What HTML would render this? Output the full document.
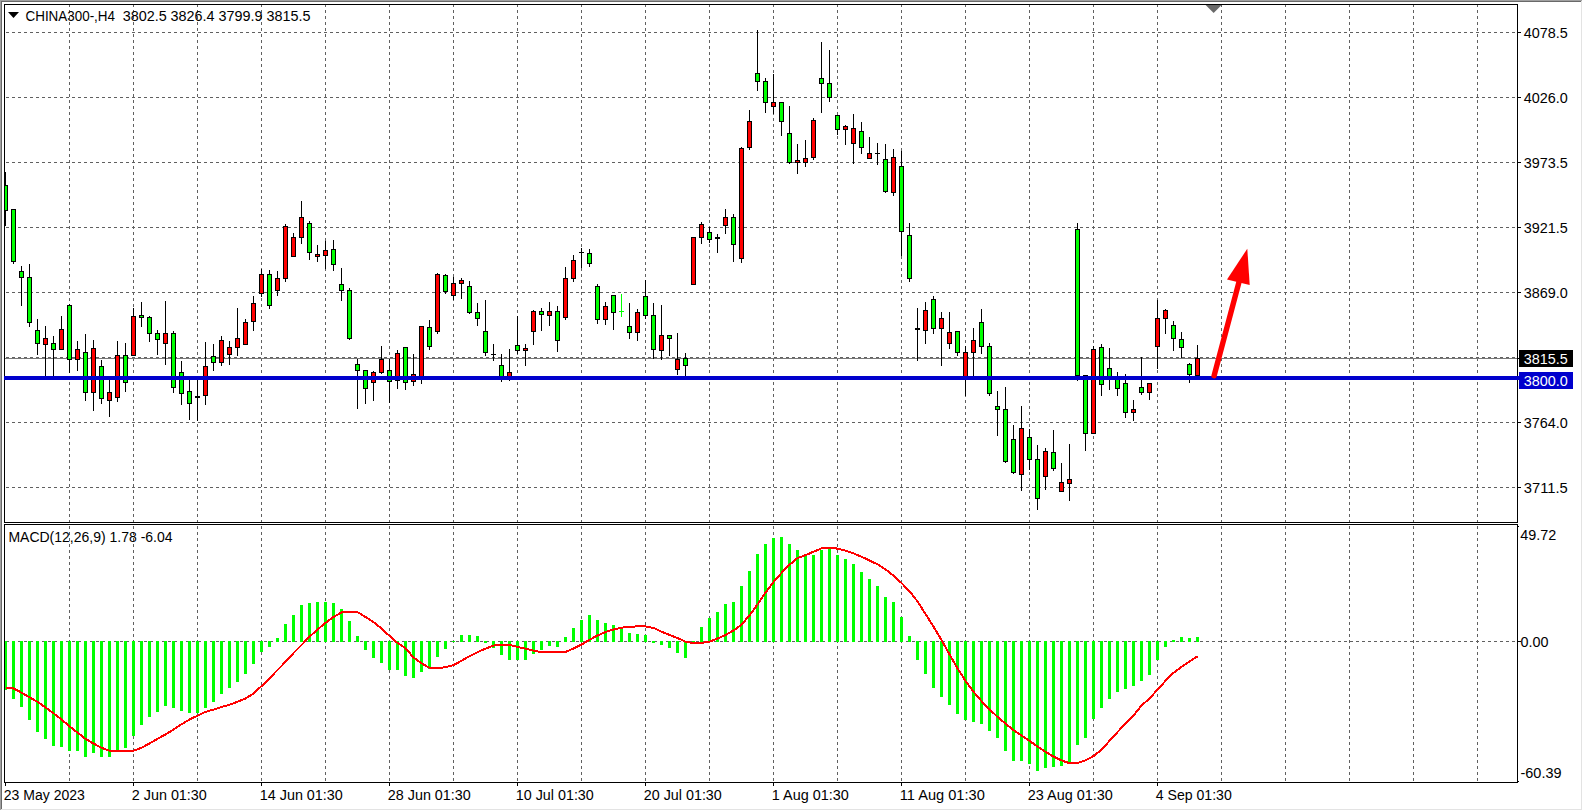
<!DOCTYPE html>
<html><head><meta charset="utf-8"><title>CHINA300-,H4</title>
<style>html,body{margin:0;padding:0;background:#fff;overflow:hidden}svg{display:block}text{font-family:"Liberation Sans",sans-serif;font-size:14px}</style></head><body>
<svg width="1583" height="811" viewBox="0 0 1583 811">
<rect width="1583" height="811" fill="#fff"/>
<g shape-rendering="crispEdges">
<rect x="0" y="0" width="1583" height="1" fill="#a0a0a0"/><rect x="0" y="0" width="1" height="811" fill="#a0a0a0"/>
<rect x="1" y="1" width="1581" height="1" fill="#696969"/><rect x="1" y="1" width="1" height="809" fill="#696969"/>
<rect x="1" y="809" width="1581" height="1" fill="#e3e3e3"/><rect x="1581" y="1" width="1" height="809" fill="#e3e3e3"/>
<rect x="0" y="810" width="1583" height="1" fill="#fff"/><rect x="1582" y="0" width="1" height="811" fill="#fff"/>
<path d="M69.5 5v2M69.5 10v3M69.5 16v3M69.5 22v3M69.5 28v3M69.5 34v3M69.5 40v3M69.5 46v3M69.5 52v3M69.5 58v3M69.5 64v3M69.5 70v3M69.5 76v3M69.5 82v3M69.5 88v3M69.5 94v3M69.5 100v3M69.5 106v3M69.5 112v3M69.5 118v3M69.5 124v3M69.5 130v3M69.5 136v3M69.5 142v3M69.5 148v3M69.5 154v3M69.5 160v3M69.5 166v3M69.5 172v3M69.5 178v3M69.5 184v3M69.5 190v3M69.5 196v3M69.5 202v3M69.5 208v3M69.5 214v3M69.5 220v3M69.5 226v3M69.5 232v3M69.5 238v3M69.5 244v3M69.5 250v3M69.5 256v3M69.5 262v3M69.5 268v3M69.5 274v3M69.5 280v3M69.5 286v3M69.5 292v3M69.5 298v3M69.5 304v3M69.5 310v3M69.5 316v3M69.5 322v3M69.5 328v3M69.5 334v3M69.5 340v3M69.5 346v3M69.5 352v3M69.5 358v3M69.5 364v3M69.5 370v3M69.5 376v3M69.5 382v3M69.5 388v3M69.5 394v3M69.5 400v3M69.5 406v3M69.5 412v3M69.5 418v3M69.5 424v3M69.5 430v3M69.5 436v3M69.5 442v3M69.5 448v3M69.5 454v3M69.5 460v3M69.5 466v3M69.5 472v3M69.5 478v3M69.5 484v3M69.5 490v3M69.5 496v3M69.5 502v3M69.5 508v3M69.5 514v3M69.5 520v2M69.5 526v3M69.5 532v3M69.5 538v3M69.5 544v3M69.5 550v3M69.5 556v3M69.5 562v3M69.5 568v3M69.5 574v3M69.5 580v3M69.5 586v3M69.5 592v3M69.5 598v3M69.5 604v3M69.5 610v3M69.5 616v3M69.5 622v3M69.5 628v3M69.5 634v3M69.5 640v3M69.5 646v3M69.5 652v3M69.5 658v3M69.5 664v3M69.5 670v3M69.5 676v3M69.5 682v3M69.5 688v3M69.5 694v3M69.5 700v3M69.5 706v3M69.5 712v3M69.5 718v3M69.5 724v3M69.5 730v3M69.5 736v3M69.5 742v3M69.5 748v3M69.5 754v3M69.5 760v3M69.5 766v3M69.5 772v3M69.5 778v3M133.5 5v2M133.5 10v3M133.5 16v3M133.5 22v3M133.5 28v3M133.5 34v3M133.5 40v3M133.5 46v3M133.5 52v3M133.5 58v3M133.5 64v3M133.5 70v3M133.5 76v3M133.5 82v3M133.5 88v3M133.5 94v3M133.5 100v3M133.5 106v3M133.5 112v3M133.5 118v3M133.5 124v3M133.5 130v3M133.5 136v3M133.5 142v3M133.5 148v3M133.5 154v3M133.5 160v3M133.5 166v3M133.5 172v3M133.5 178v3M133.5 184v3M133.5 190v3M133.5 196v3M133.5 202v3M133.5 208v3M133.5 214v3M133.5 220v3M133.5 226v3M133.5 232v3M133.5 238v3M133.5 244v3M133.5 250v3M133.5 256v3M133.5 262v3M133.5 268v3M133.5 274v3M133.5 280v3M133.5 286v3M133.5 292v3M133.5 298v3M133.5 304v3M133.5 310v3M133.5 316v3M133.5 322v3M133.5 328v3M133.5 334v3M133.5 340v3M133.5 346v3M133.5 352v3M133.5 358v3M133.5 364v3M133.5 370v3M133.5 376v3M133.5 382v3M133.5 388v3M133.5 394v3M133.5 400v3M133.5 406v3M133.5 412v3M133.5 418v3M133.5 424v3M133.5 430v3M133.5 436v3M133.5 442v3M133.5 448v3M133.5 454v3M133.5 460v3M133.5 466v3M133.5 472v3M133.5 478v3M133.5 484v3M133.5 490v3M133.5 496v3M133.5 502v3M133.5 508v3M133.5 514v3M133.5 520v2M133.5 526v3M133.5 532v3M133.5 538v3M133.5 544v3M133.5 550v3M133.5 556v3M133.5 562v3M133.5 568v3M133.5 574v3M133.5 580v3M133.5 586v3M133.5 592v3M133.5 598v3M133.5 604v3M133.5 610v3M133.5 616v3M133.5 622v3M133.5 628v3M133.5 634v3M133.5 640v3M133.5 646v3M133.5 652v3M133.5 658v3M133.5 664v3M133.5 670v3M133.5 676v3M133.5 682v3M133.5 688v3M133.5 694v3M133.5 700v3M133.5 706v3M133.5 712v3M133.5 718v3M133.5 724v3M133.5 730v3M133.5 736v3M133.5 742v3M133.5 748v3M133.5 754v3M133.5 760v3M133.5 766v3M133.5 772v3M133.5 778v3M197.5 5v2M197.5 10v3M197.5 16v3M197.5 22v3M197.5 28v3M197.5 34v3M197.5 40v3M197.5 46v3M197.5 52v3M197.5 58v3M197.5 64v3M197.5 70v3M197.5 76v3M197.5 82v3M197.5 88v3M197.5 94v3M197.5 100v3M197.5 106v3M197.5 112v3M197.5 118v3M197.5 124v3M197.5 130v3M197.5 136v3M197.5 142v3M197.5 148v3M197.5 154v3M197.5 160v3M197.5 166v3M197.5 172v3M197.5 178v3M197.5 184v3M197.5 190v3M197.5 196v3M197.5 202v3M197.5 208v3M197.5 214v3M197.5 220v3M197.5 226v3M197.5 232v3M197.5 238v3M197.5 244v3M197.5 250v3M197.5 256v3M197.5 262v3M197.5 268v3M197.5 274v3M197.5 280v3M197.5 286v3M197.5 292v3M197.5 298v3M197.5 304v3M197.5 310v3M197.5 316v3M197.5 322v3M197.5 328v3M197.5 334v3M197.5 340v3M197.5 346v3M197.5 352v3M197.5 358v3M197.5 364v3M197.5 370v3M197.5 376v3M197.5 382v3M197.5 388v3M197.5 394v3M197.5 400v3M197.5 406v3M197.5 412v3M197.5 418v3M197.5 424v3M197.5 430v3M197.5 436v3M197.5 442v3M197.5 448v3M197.5 454v3M197.5 460v3M197.5 466v3M197.5 472v3M197.5 478v3M197.5 484v3M197.5 490v3M197.5 496v3M197.5 502v3M197.5 508v3M197.5 514v3M197.5 520v2M197.5 526v3M197.5 532v3M197.5 538v3M197.5 544v3M197.5 550v3M197.5 556v3M197.5 562v3M197.5 568v3M197.5 574v3M197.5 580v3M197.5 586v3M197.5 592v3M197.5 598v3M197.5 604v3M197.5 610v3M197.5 616v3M197.5 622v3M197.5 628v3M197.5 634v3M197.5 640v3M197.5 646v3M197.5 652v3M197.5 658v3M197.5 664v3M197.5 670v3M197.5 676v3M197.5 682v3M197.5 688v3M197.5 694v3M197.5 700v3M197.5 706v3M197.5 712v3M197.5 718v3M197.5 724v3M197.5 730v3M197.5 736v3M197.5 742v3M197.5 748v3M197.5 754v3M197.5 760v3M197.5 766v3M197.5 772v3M197.5 778v3M261.5 5v2M261.5 10v3M261.5 16v3M261.5 22v3M261.5 28v3M261.5 34v3M261.5 40v3M261.5 46v3M261.5 52v3M261.5 58v3M261.5 64v3M261.5 70v3M261.5 76v3M261.5 82v3M261.5 88v3M261.5 94v3M261.5 100v3M261.5 106v3M261.5 112v3M261.5 118v3M261.5 124v3M261.5 130v3M261.5 136v3M261.5 142v3M261.5 148v3M261.5 154v3M261.5 160v3M261.5 166v3M261.5 172v3M261.5 178v3M261.5 184v3M261.5 190v3M261.5 196v3M261.5 202v3M261.5 208v3M261.5 214v3M261.5 220v3M261.5 226v3M261.5 232v3M261.5 238v3M261.5 244v3M261.5 250v3M261.5 256v3M261.5 262v3M261.5 268v3M261.5 274v3M261.5 280v3M261.5 286v3M261.5 292v3M261.5 298v3M261.5 304v3M261.5 310v3M261.5 316v3M261.5 322v3M261.5 328v3M261.5 334v3M261.5 340v3M261.5 346v3M261.5 352v3M261.5 358v3M261.5 364v3M261.5 370v3M261.5 376v3M261.5 382v3M261.5 388v3M261.5 394v3M261.5 400v3M261.5 406v3M261.5 412v3M261.5 418v3M261.5 424v3M261.5 430v3M261.5 436v3M261.5 442v3M261.5 448v3M261.5 454v3M261.5 460v3M261.5 466v3M261.5 472v3M261.5 478v3M261.5 484v3M261.5 490v3M261.5 496v3M261.5 502v3M261.5 508v3M261.5 514v3M261.5 520v2M261.5 526v3M261.5 532v3M261.5 538v3M261.5 544v3M261.5 550v3M261.5 556v3M261.5 562v3M261.5 568v3M261.5 574v3M261.5 580v3M261.5 586v3M261.5 592v3M261.5 598v3M261.5 604v3M261.5 610v3M261.5 616v3M261.5 622v3M261.5 628v3M261.5 634v3M261.5 640v3M261.5 646v3M261.5 652v3M261.5 658v3M261.5 664v3M261.5 670v3M261.5 676v3M261.5 682v3M261.5 688v3M261.5 694v3M261.5 700v3M261.5 706v3M261.5 712v3M261.5 718v3M261.5 724v3M261.5 730v3M261.5 736v3M261.5 742v3M261.5 748v3M261.5 754v3M261.5 760v3M261.5 766v3M261.5 772v3M261.5 778v3M325.5 5v2M325.5 10v3M325.5 16v3M325.5 22v3M325.5 28v3M325.5 34v3M325.5 40v3M325.5 46v3M325.5 52v3M325.5 58v3M325.5 64v3M325.5 70v3M325.5 76v3M325.5 82v3M325.5 88v3M325.5 94v3M325.5 100v3M325.5 106v3M325.5 112v3M325.5 118v3M325.5 124v3M325.5 130v3M325.5 136v3M325.5 142v3M325.5 148v3M325.5 154v3M325.5 160v3M325.5 166v3M325.5 172v3M325.5 178v3M325.5 184v3M325.5 190v3M325.5 196v3M325.5 202v3M325.5 208v3M325.5 214v3M325.5 220v3M325.5 226v3M325.5 232v3M325.5 238v3M325.5 244v3M325.5 250v3M325.5 256v3M325.5 262v3M325.5 268v3M325.5 274v3M325.5 280v3M325.5 286v3M325.5 292v3M325.5 298v3M325.5 304v3M325.5 310v3M325.5 316v3M325.5 322v3M325.5 328v3M325.5 334v3M325.5 340v3M325.5 346v3M325.5 352v3M325.5 358v3M325.5 364v3M325.5 370v3M325.5 376v3M325.5 382v3M325.5 388v3M325.5 394v3M325.5 400v3M325.5 406v3M325.5 412v3M325.5 418v3M325.5 424v3M325.5 430v3M325.5 436v3M325.5 442v3M325.5 448v3M325.5 454v3M325.5 460v3M325.5 466v3M325.5 472v3M325.5 478v3M325.5 484v3M325.5 490v3M325.5 496v3M325.5 502v3M325.5 508v3M325.5 514v3M325.5 520v2M325.5 526v3M325.5 532v3M325.5 538v3M325.5 544v3M325.5 550v3M325.5 556v3M325.5 562v3M325.5 568v3M325.5 574v3M325.5 580v3M325.5 586v3M325.5 592v3M325.5 598v3M325.5 604v3M325.5 610v3M325.5 616v3M325.5 622v3M325.5 628v3M325.5 634v3M325.5 640v3M325.5 646v3M325.5 652v3M325.5 658v3M325.5 664v3M325.5 670v3M325.5 676v3M325.5 682v3M325.5 688v3M325.5 694v3M325.5 700v3M325.5 706v3M325.5 712v3M325.5 718v3M325.5 724v3M325.5 730v3M325.5 736v3M325.5 742v3M325.5 748v3M325.5 754v3M325.5 760v3M325.5 766v3M325.5 772v3M325.5 778v3M389.5 5v2M389.5 10v3M389.5 16v3M389.5 22v3M389.5 28v3M389.5 34v3M389.5 40v3M389.5 46v3M389.5 52v3M389.5 58v3M389.5 64v3M389.5 70v3M389.5 76v3M389.5 82v3M389.5 88v3M389.5 94v3M389.5 100v3M389.5 106v3M389.5 112v3M389.5 118v3M389.5 124v3M389.5 130v3M389.5 136v3M389.5 142v3M389.5 148v3M389.5 154v3M389.5 160v3M389.5 166v3M389.5 172v3M389.5 178v3M389.5 184v3M389.5 190v3M389.5 196v3M389.5 202v3M389.5 208v3M389.5 214v3M389.5 220v3M389.5 226v3M389.5 232v3M389.5 238v3M389.5 244v3M389.5 250v3M389.5 256v3M389.5 262v3M389.5 268v3M389.5 274v3M389.5 280v3M389.5 286v3M389.5 292v3M389.5 298v3M389.5 304v3M389.5 310v3M389.5 316v3M389.5 322v3M389.5 328v3M389.5 334v3M389.5 340v3M389.5 346v3M389.5 352v3M389.5 358v3M389.5 364v3M389.5 370v3M389.5 376v3M389.5 382v3M389.5 388v3M389.5 394v3M389.5 400v3M389.5 406v3M389.5 412v3M389.5 418v3M389.5 424v3M389.5 430v3M389.5 436v3M389.5 442v3M389.5 448v3M389.5 454v3M389.5 460v3M389.5 466v3M389.5 472v3M389.5 478v3M389.5 484v3M389.5 490v3M389.5 496v3M389.5 502v3M389.5 508v3M389.5 514v3M389.5 520v2M389.5 526v3M389.5 532v3M389.5 538v3M389.5 544v3M389.5 550v3M389.5 556v3M389.5 562v3M389.5 568v3M389.5 574v3M389.5 580v3M389.5 586v3M389.5 592v3M389.5 598v3M389.5 604v3M389.5 610v3M389.5 616v3M389.5 622v3M389.5 628v3M389.5 634v3M389.5 640v3M389.5 646v3M389.5 652v3M389.5 658v3M389.5 664v3M389.5 670v3M389.5 676v3M389.5 682v3M389.5 688v3M389.5 694v3M389.5 700v3M389.5 706v3M389.5 712v3M389.5 718v3M389.5 724v3M389.5 730v3M389.5 736v3M389.5 742v3M389.5 748v3M389.5 754v3M389.5 760v3M389.5 766v3M389.5 772v3M389.5 778v3M453.5 5v2M453.5 10v3M453.5 16v3M453.5 22v3M453.5 28v3M453.5 34v3M453.5 40v3M453.5 46v3M453.5 52v3M453.5 58v3M453.5 64v3M453.5 70v3M453.5 76v3M453.5 82v3M453.5 88v3M453.5 94v3M453.5 100v3M453.5 106v3M453.5 112v3M453.5 118v3M453.5 124v3M453.5 130v3M453.5 136v3M453.5 142v3M453.5 148v3M453.5 154v3M453.5 160v3M453.5 166v3M453.5 172v3M453.5 178v3M453.5 184v3M453.5 190v3M453.5 196v3M453.5 202v3M453.5 208v3M453.5 214v3M453.5 220v3M453.5 226v3M453.5 232v3M453.5 238v3M453.5 244v3M453.5 250v3M453.5 256v3M453.5 262v3M453.5 268v3M453.5 274v3M453.5 280v3M453.5 286v3M453.5 292v3M453.5 298v3M453.5 304v3M453.5 310v3M453.5 316v3M453.5 322v3M453.5 328v3M453.5 334v3M453.5 340v3M453.5 346v3M453.5 352v3M453.5 358v3M453.5 364v3M453.5 370v3M453.5 376v3M453.5 382v3M453.5 388v3M453.5 394v3M453.5 400v3M453.5 406v3M453.5 412v3M453.5 418v3M453.5 424v3M453.5 430v3M453.5 436v3M453.5 442v3M453.5 448v3M453.5 454v3M453.5 460v3M453.5 466v3M453.5 472v3M453.5 478v3M453.5 484v3M453.5 490v3M453.5 496v3M453.5 502v3M453.5 508v3M453.5 514v3M453.5 520v2M453.5 526v3M453.5 532v3M453.5 538v3M453.5 544v3M453.5 550v3M453.5 556v3M453.5 562v3M453.5 568v3M453.5 574v3M453.5 580v3M453.5 586v3M453.5 592v3M453.5 598v3M453.5 604v3M453.5 610v3M453.5 616v3M453.5 622v3M453.5 628v3M453.5 634v3M453.5 640v3M453.5 646v3M453.5 652v3M453.5 658v3M453.5 664v3M453.5 670v3M453.5 676v3M453.5 682v3M453.5 688v3M453.5 694v3M453.5 700v3M453.5 706v3M453.5 712v3M453.5 718v3M453.5 724v3M453.5 730v3M453.5 736v3M453.5 742v3M453.5 748v3M453.5 754v3M453.5 760v3M453.5 766v3M453.5 772v3M453.5 778v3M517.5 5v2M517.5 10v3M517.5 16v3M517.5 22v3M517.5 28v3M517.5 34v3M517.5 40v3M517.5 46v3M517.5 52v3M517.5 58v3M517.5 64v3M517.5 70v3M517.5 76v3M517.5 82v3M517.5 88v3M517.5 94v3M517.5 100v3M517.5 106v3M517.5 112v3M517.5 118v3M517.5 124v3M517.5 130v3M517.5 136v3M517.5 142v3M517.5 148v3M517.5 154v3M517.5 160v3M517.5 166v3M517.5 172v3M517.5 178v3M517.5 184v3M517.5 190v3M517.5 196v3M517.5 202v3M517.5 208v3M517.5 214v3M517.5 220v3M517.5 226v3M517.5 232v3M517.5 238v3M517.5 244v3M517.5 250v3M517.5 256v3M517.5 262v3M517.5 268v3M517.5 274v3M517.5 280v3M517.5 286v3M517.5 292v3M517.5 298v3M517.5 304v3M517.5 310v3M517.5 316v3M517.5 322v3M517.5 328v3M517.5 334v3M517.5 340v3M517.5 346v3M517.5 352v3M517.5 358v3M517.5 364v3M517.5 370v3M517.5 376v3M517.5 382v3M517.5 388v3M517.5 394v3M517.5 400v3M517.5 406v3M517.5 412v3M517.5 418v3M517.5 424v3M517.5 430v3M517.5 436v3M517.5 442v3M517.5 448v3M517.5 454v3M517.5 460v3M517.5 466v3M517.5 472v3M517.5 478v3M517.5 484v3M517.5 490v3M517.5 496v3M517.5 502v3M517.5 508v3M517.5 514v3M517.5 520v2M517.5 526v3M517.5 532v3M517.5 538v3M517.5 544v3M517.5 550v3M517.5 556v3M517.5 562v3M517.5 568v3M517.5 574v3M517.5 580v3M517.5 586v3M517.5 592v3M517.5 598v3M517.5 604v3M517.5 610v3M517.5 616v3M517.5 622v3M517.5 628v3M517.5 634v3M517.5 640v3M517.5 646v3M517.5 652v3M517.5 658v3M517.5 664v3M517.5 670v3M517.5 676v3M517.5 682v3M517.5 688v3M517.5 694v3M517.5 700v3M517.5 706v3M517.5 712v3M517.5 718v3M517.5 724v3M517.5 730v3M517.5 736v3M517.5 742v3M517.5 748v3M517.5 754v3M517.5 760v3M517.5 766v3M517.5 772v3M517.5 778v3M581.5 5v2M581.5 10v3M581.5 16v3M581.5 22v3M581.5 28v3M581.5 34v3M581.5 40v3M581.5 46v3M581.5 52v3M581.5 58v3M581.5 64v3M581.5 70v3M581.5 76v3M581.5 82v3M581.5 88v3M581.5 94v3M581.5 100v3M581.5 106v3M581.5 112v3M581.5 118v3M581.5 124v3M581.5 130v3M581.5 136v3M581.5 142v3M581.5 148v3M581.5 154v3M581.5 160v3M581.5 166v3M581.5 172v3M581.5 178v3M581.5 184v3M581.5 190v3M581.5 196v3M581.5 202v3M581.5 208v3M581.5 214v3M581.5 220v3M581.5 226v3M581.5 232v3M581.5 238v3M581.5 244v3M581.5 250v3M581.5 256v3M581.5 262v3M581.5 268v3M581.5 274v3M581.5 280v3M581.5 286v3M581.5 292v3M581.5 298v3M581.5 304v3M581.5 310v3M581.5 316v3M581.5 322v3M581.5 328v3M581.5 334v3M581.5 340v3M581.5 346v3M581.5 352v3M581.5 358v3M581.5 364v3M581.5 370v3M581.5 376v3M581.5 382v3M581.5 388v3M581.5 394v3M581.5 400v3M581.5 406v3M581.5 412v3M581.5 418v3M581.5 424v3M581.5 430v3M581.5 436v3M581.5 442v3M581.5 448v3M581.5 454v3M581.5 460v3M581.5 466v3M581.5 472v3M581.5 478v3M581.5 484v3M581.5 490v3M581.5 496v3M581.5 502v3M581.5 508v3M581.5 514v3M581.5 520v2M581.5 526v3M581.5 532v3M581.5 538v3M581.5 544v3M581.5 550v3M581.5 556v3M581.5 562v3M581.5 568v3M581.5 574v3M581.5 580v3M581.5 586v3M581.5 592v3M581.5 598v3M581.5 604v3M581.5 610v3M581.5 616v3M581.5 622v3M581.5 628v3M581.5 634v3M581.5 640v3M581.5 646v3M581.5 652v3M581.5 658v3M581.5 664v3M581.5 670v3M581.5 676v3M581.5 682v3M581.5 688v3M581.5 694v3M581.5 700v3M581.5 706v3M581.5 712v3M581.5 718v3M581.5 724v3M581.5 730v3M581.5 736v3M581.5 742v3M581.5 748v3M581.5 754v3M581.5 760v3M581.5 766v3M581.5 772v3M581.5 778v3M645.5 5v2M645.5 10v3M645.5 16v3M645.5 22v3M645.5 28v3M645.5 34v3M645.5 40v3M645.5 46v3M645.5 52v3M645.5 58v3M645.5 64v3M645.5 70v3M645.5 76v3M645.5 82v3M645.5 88v3M645.5 94v3M645.5 100v3M645.5 106v3M645.5 112v3M645.5 118v3M645.5 124v3M645.5 130v3M645.5 136v3M645.5 142v3M645.5 148v3M645.5 154v3M645.5 160v3M645.5 166v3M645.5 172v3M645.5 178v3M645.5 184v3M645.5 190v3M645.5 196v3M645.5 202v3M645.5 208v3M645.5 214v3M645.5 220v3M645.5 226v3M645.5 232v3M645.5 238v3M645.5 244v3M645.5 250v3M645.5 256v3M645.5 262v3M645.5 268v3M645.5 274v3M645.5 280v3M645.5 286v3M645.5 292v3M645.5 298v3M645.5 304v3M645.5 310v3M645.5 316v3M645.5 322v3M645.5 328v3M645.5 334v3M645.5 340v3M645.5 346v3M645.5 352v3M645.5 358v3M645.5 364v3M645.5 370v3M645.5 376v3M645.5 382v3M645.5 388v3M645.5 394v3M645.5 400v3M645.5 406v3M645.5 412v3M645.5 418v3M645.5 424v3M645.5 430v3M645.5 436v3M645.5 442v3M645.5 448v3M645.5 454v3M645.5 460v3M645.5 466v3M645.5 472v3M645.5 478v3M645.5 484v3M645.5 490v3M645.5 496v3M645.5 502v3M645.5 508v3M645.5 514v3M645.5 520v2M645.5 526v3M645.5 532v3M645.5 538v3M645.5 544v3M645.5 550v3M645.5 556v3M645.5 562v3M645.5 568v3M645.5 574v3M645.5 580v3M645.5 586v3M645.5 592v3M645.5 598v3M645.5 604v3M645.5 610v3M645.5 616v3M645.5 622v3M645.5 628v3M645.5 634v3M645.5 640v3M645.5 646v3M645.5 652v3M645.5 658v3M645.5 664v3M645.5 670v3M645.5 676v3M645.5 682v3M645.5 688v3M645.5 694v3M645.5 700v3M645.5 706v3M645.5 712v3M645.5 718v3M645.5 724v3M645.5 730v3M645.5 736v3M645.5 742v3M645.5 748v3M645.5 754v3M645.5 760v3M645.5 766v3M645.5 772v3M645.5 778v3M709.5 5v2M709.5 10v3M709.5 16v3M709.5 22v3M709.5 28v3M709.5 34v3M709.5 40v3M709.5 46v3M709.5 52v3M709.5 58v3M709.5 64v3M709.5 70v3M709.5 76v3M709.5 82v3M709.5 88v3M709.5 94v3M709.5 100v3M709.5 106v3M709.5 112v3M709.5 118v3M709.5 124v3M709.5 130v3M709.5 136v3M709.5 142v3M709.5 148v3M709.5 154v3M709.5 160v3M709.5 166v3M709.5 172v3M709.5 178v3M709.5 184v3M709.5 190v3M709.5 196v3M709.5 202v3M709.5 208v3M709.5 214v3M709.5 220v3M709.5 226v3M709.5 232v3M709.5 238v3M709.5 244v3M709.5 250v3M709.5 256v3M709.5 262v3M709.5 268v3M709.5 274v3M709.5 280v3M709.5 286v3M709.5 292v3M709.5 298v3M709.5 304v3M709.5 310v3M709.5 316v3M709.5 322v3M709.5 328v3M709.5 334v3M709.5 340v3M709.5 346v3M709.5 352v3M709.5 358v3M709.5 364v3M709.5 370v3M709.5 376v3M709.5 382v3M709.5 388v3M709.5 394v3M709.5 400v3M709.5 406v3M709.5 412v3M709.5 418v3M709.5 424v3M709.5 430v3M709.5 436v3M709.5 442v3M709.5 448v3M709.5 454v3M709.5 460v3M709.5 466v3M709.5 472v3M709.5 478v3M709.5 484v3M709.5 490v3M709.5 496v3M709.5 502v3M709.5 508v3M709.5 514v3M709.5 520v2M709.5 526v3M709.5 532v3M709.5 538v3M709.5 544v3M709.5 550v3M709.5 556v3M709.5 562v3M709.5 568v3M709.5 574v3M709.5 580v3M709.5 586v3M709.5 592v3M709.5 598v3M709.5 604v3M709.5 610v3M709.5 616v3M709.5 622v3M709.5 628v3M709.5 634v3M709.5 640v3M709.5 646v3M709.5 652v3M709.5 658v3M709.5 664v3M709.5 670v3M709.5 676v3M709.5 682v3M709.5 688v3M709.5 694v3M709.5 700v3M709.5 706v3M709.5 712v3M709.5 718v3M709.5 724v3M709.5 730v3M709.5 736v3M709.5 742v3M709.5 748v3M709.5 754v3M709.5 760v3M709.5 766v3M709.5 772v3M709.5 778v3M773.5 5v2M773.5 10v3M773.5 16v3M773.5 22v3M773.5 28v3M773.5 34v3M773.5 40v3M773.5 46v3M773.5 52v3M773.5 58v3M773.5 64v3M773.5 70v3M773.5 76v3M773.5 82v3M773.5 88v3M773.5 94v3M773.5 100v3M773.5 106v3M773.5 112v3M773.5 118v3M773.5 124v3M773.5 130v3M773.5 136v3M773.5 142v3M773.5 148v3M773.5 154v3M773.5 160v3M773.5 166v3M773.5 172v3M773.5 178v3M773.5 184v3M773.5 190v3M773.5 196v3M773.5 202v3M773.5 208v3M773.5 214v3M773.5 220v3M773.5 226v3M773.5 232v3M773.5 238v3M773.5 244v3M773.5 250v3M773.5 256v3M773.5 262v3M773.5 268v3M773.5 274v3M773.5 280v3M773.5 286v3M773.5 292v3M773.5 298v3M773.5 304v3M773.5 310v3M773.5 316v3M773.5 322v3M773.5 328v3M773.5 334v3M773.5 340v3M773.5 346v3M773.5 352v3M773.5 358v3M773.5 364v3M773.5 370v3M773.5 376v3M773.5 382v3M773.5 388v3M773.5 394v3M773.5 400v3M773.5 406v3M773.5 412v3M773.5 418v3M773.5 424v3M773.5 430v3M773.5 436v3M773.5 442v3M773.5 448v3M773.5 454v3M773.5 460v3M773.5 466v3M773.5 472v3M773.5 478v3M773.5 484v3M773.5 490v3M773.5 496v3M773.5 502v3M773.5 508v3M773.5 514v3M773.5 520v2M773.5 526v3M773.5 532v3M773.5 538v3M773.5 544v3M773.5 550v3M773.5 556v3M773.5 562v3M773.5 568v3M773.5 574v3M773.5 580v3M773.5 586v3M773.5 592v3M773.5 598v3M773.5 604v3M773.5 610v3M773.5 616v3M773.5 622v3M773.5 628v3M773.5 634v3M773.5 640v3M773.5 646v3M773.5 652v3M773.5 658v3M773.5 664v3M773.5 670v3M773.5 676v3M773.5 682v3M773.5 688v3M773.5 694v3M773.5 700v3M773.5 706v3M773.5 712v3M773.5 718v3M773.5 724v3M773.5 730v3M773.5 736v3M773.5 742v3M773.5 748v3M773.5 754v3M773.5 760v3M773.5 766v3M773.5 772v3M773.5 778v3M837.5 5v2M837.5 10v3M837.5 16v3M837.5 22v3M837.5 28v3M837.5 34v3M837.5 40v3M837.5 46v3M837.5 52v3M837.5 58v3M837.5 64v3M837.5 70v3M837.5 76v3M837.5 82v3M837.5 88v3M837.5 94v3M837.5 100v3M837.5 106v3M837.5 112v3M837.5 118v3M837.5 124v3M837.5 130v3M837.5 136v3M837.5 142v3M837.5 148v3M837.5 154v3M837.5 160v3M837.5 166v3M837.5 172v3M837.5 178v3M837.5 184v3M837.5 190v3M837.5 196v3M837.5 202v3M837.5 208v3M837.5 214v3M837.5 220v3M837.5 226v3M837.5 232v3M837.5 238v3M837.5 244v3M837.5 250v3M837.5 256v3M837.5 262v3M837.5 268v3M837.5 274v3M837.5 280v3M837.5 286v3M837.5 292v3M837.5 298v3M837.5 304v3M837.5 310v3M837.5 316v3M837.5 322v3M837.5 328v3M837.5 334v3M837.5 340v3M837.5 346v3M837.5 352v3M837.5 358v3M837.5 364v3M837.5 370v3M837.5 376v3M837.5 382v3M837.5 388v3M837.5 394v3M837.5 400v3M837.5 406v3M837.5 412v3M837.5 418v3M837.5 424v3M837.5 430v3M837.5 436v3M837.5 442v3M837.5 448v3M837.5 454v3M837.5 460v3M837.5 466v3M837.5 472v3M837.5 478v3M837.5 484v3M837.5 490v3M837.5 496v3M837.5 502v3M837.5 508v3M837.5 514v3M837.5 520v2M837.5 526v3M837.5 532v3M837.5 538v3M837.5 544v3M837.5 550v3M837.5 556v3M837.5 562v3M837.5 568v3M837.5 574v3M837.5 580v3M837.5 586v3M837.5 592v3M837.5 598v3M837.5 604v3M837.5 610v3M837.5 616v3M837.5 622v3M837.5 628v3M837.5 634v3M837.5 640v3M837.5 646v3M837.5 652v3M837.5 658v3M837.5 664v3M837.5 670v3M837.5 676v3M837.5 682v3M837.5 688v3M837.5 694v3M837.5 700v3M837.5 706v3M837.5 712v3M837.5 718v3M837.5 724v3M837.5 730v3M837.5 736v3M837.5 742v3M837.5 748v3M837.5 754v3M837.5 760v3M837.5 766v3M837.5 772v3M837.5 778v3M901.5 5v2M901.5 10v3M901.5 16v3M901.5 22v3M901.5 28v3M901.5 34v3M901.5 40v3M901.5 46v3M901.5 52v3M901.5 58v3M901.5 64v3M901.5 70v3M901.5 76v3M901.5 82v3M901.5 88v3M901.5 94v3M901.5 100v3M901.5 106v3M901.5 112v3M901.5 118v3M901.5 124v3M901.5 130v3M901.5 136v3M901.5 142v3M901.5 148v3M901.5 154v3M901.5 160v3M901.5 166v3M901.5 172v3M901.5 178v3M901.5 184v3M901.5 190v3M901.5 196v3M901.5 202v3M901.5 208v3M901.5 214v3M901.5 220v3M901.5 226v3M901.5 232v3M901.5 238v3M901.5 244v3M901.5 250v3M901.5 256v3M901.5 262v3M901.5 268v3M901.5 274v3M901.5 280v3M901.5 286v3M901.5 292v3M901.5 298v3M901.5 304v3M901.5 310v3M901.5 316v3M901.5 322v3M901.5 328v3M901.5 334v3M901.5 340v3M901.5 346v3M901.5 352v3M901.5 358v3M901.5 364v3M901.5 370v3M901.5 376v3M901.5 382v3M901.5 388v3M901.5 394v3M901.5 400v3M901.5 406v3M901.5 412v3M901.5 418v3M901.5 424v3M901.5 430v3M901.5 436v3M901.5 442v3M901.5 448v3M901.5 454v3M901.5 460v3M901.5 466v3M901.5 472v3M901.5 478v3M901.5 484v3M901.5 490v3M901.5 496v3M901.5 502v3M901.5 508v3M901.5 514v3M901.5 520v2M901.5 526v3M901.5 532v3M901.5 538v3M901.5 544v3M901.5 550v3M901.5 556v3M901.5 562v3M901.5 568v3M901.5 574v3M901.5 580v3M901.5 586v3M901.5 592v3M901.5 598v3M901.5 604v3M901.5 610v3M901.5 616v3M901.5 622v3M901.5 628v3M901.5 634v3M901.5 640v3M901.5 646v3M901.5 652v3M901.5 658v3M901.5 664v3M901.5 670v3M901.5 676v3M901.5 682v3M901.5 688v3M901.5 694v3M901.5 700v3M901.5 706v3M901.5 712v3M901.5 718v3M901.5 724v3M901.5 730v3M901.5 736v3M901.5 742v3M901.5 748v3M901.5 754v3M901.5 760v3M901.5 766v3M901.5 772v3M901.5 778v3M965.5 5v2M965.5 10v3M965.5 16v3M965.5 22v3M965.5 28v3M965.5 34v3M965.5 40v3M965.5 46v3M965.5 52v3M965.5 58v3M965.5 64v3M965.5 70v3M965.5 76v3M965.5 82v3M965.5 88v3M965.5 94v3M965.5 100v3M965.5 106v3M965.5 112v3M965.5 118v3M965.5 124v3M965.5 130v3M965.5 136v3M965.5 142v3M965.5 148v3M965.5 154v3M965.5 160v3M965.5 166v3M965.5 172v3M965.5 178v3M965.5 184v3M965.5 190v3M965.5 196v3M965.5 202v3M965.5 208v3M965.5 214v3M965.5 220v3M965.5 226v3M965.5 232v3M965.5 238v3M965.5 244v3M965.5 250v3M965.5 256v3M965.5 262v3M965.5 268v3M965.5 274v3M965.5 280v3M965.5 286v3M965.5 292v3M965.5 298v3M965.5 304v3M965.5 310v3M965.5 316v3M965.5 322v3M965.5 328v3M965.5 334v3M965.5 340v3M965.5 346v3M965.5 352v3M965.5 358v3M965.5 364v3M965.5 370v3M965.5 376v3M965.5 382v3M965.5 388v3M965.5 394v3M965.5 400v3M965.5 406v3M965.5 412v3M965.5 418v3M965.5 424v3M965.5 430v3M965.5 436v3M965.5 442v3M965.5 448v3M965.5 454v3M965.5 460v3M965.5 466v3M965.5 472v3M965.5 478v3M965.5 484v3M965.5 490v3M965.5 496v3M965.5 502v3M965.5 508v3M965.5 514v3M965.5 520v2M965.5 526v3M965.5 532v3M965.5 538v3M965.5 544v3M965.5 550v3M965.5 556v3M965.5 562v3M965.5 568v3M965.5 574v3M965.5 580v3M965.5 586v3M965.5 592v3M965.5 598v3M965.5 604v3M965.5 610v3M965.5 616v3M965.5 622v3M965.5 628v3M965.5 634v3M965.5 640v3M965.5 646v3M965.5 652v3M965.5 658v3M965.5 664v3M965.5 670v3M965.5 676v3M965.5 682v3M965.5 688v3M965.5 694v3M965.5 700v3M965.5 706v3M965.5 712v3M965.5 718v3M965.5 724v3M965.5 730v3M965.5 736v3M965.5 742v3M965.5 748v3M965.5 754v3M965.5 760v3M965.5 766v3M965.5 772v3M965.5 778v3M1029.5 5v2M1029.5 10v3M1029.5 16v3M1029.5 22v3M1029.5 28v3M1029.5 34v3M1029.5 40v3M1029.5 46v3M1029.5 52v3M1029.5 58v3M1029.5 64v3M1029.5 70v3M1029.5 76v3M1029.5 82v3M1029.5 88v3M1029.5 94v3M1029.5 100v3M1029.5 106v3M1029.5 112v3M1029.5 118v3M1029.5 124v3M1029.5 130v3M1029.5 136v3M1029.5 142v3M1029.5 148v3M1029.5 154v3M1029.5 160v3M1029.5 166v3M1029.5 172v3M1029.5 178v3M1029.5 184v3M1029.5 190v3M1029.5 196v3M1029.5 202v3M1029.5 208v3M1029.5 214v3M1029.5 220v3M1029.5 226v3M1029.5 232v3M1029.5 238v3M1029.5 244v3M1029.5 250v3M1029.5 256v3M1029.5 262v3M1029.5 268v3M1029.5 274v3M1029.5 280v3M1029.5 286v3M1029.5 292v3M1029.5 298v3M1029.5 304v3M1029.5 310v3M1029.5 316v3M1029.5 322v3M1029.5 328v3M1029.5 334v3M1029.5 340v3M1029.5 346v3M1029.5 352v3M1029.5 358v3M1029.5 364v3M1029.5 370v3M1029.5 376v3M1029.5 382v3M1029.5 388v3M1029.5 394v3M1029.5 400v3M1029.5 406v3M1029.5 412v3M1029.5 418v3M1029.5 424v3M1029.5 430v3M1029.5 436v3M1029.5 442v3M1029.5 448v3M1029.5 454v3M1029.5 460v3M1029.5 466v3M1029.5 472v3M1029.5 478v3M1029.5 484v3M1029.5 490v3M1029.5 496v3M1029.5 502v3M1029.5 508v3M1029.5 514v3M1029.5 520v2M1029.5 526v3M1029.5 532v3M1029.5 538v3M1029.5 544v3M1029.5 550v3M1029.5 556v3M1029.5 562v3M1029.5 568v3M1029.5 574v3M1029.5 580v3M1029.5 586v3M1029.5 592v3M1029.5 598v3M1029.5 604v3M1029.5 610v3M1029.5 616v3M1029.5 622v3M1029.5 628v3M1029.5 634v3M1029.5 640v3M1029.5 646v3M1029.5 652v3M1029.5 658v3M1029.5 664v3M1029.5 670v3M1029.5 676v3M1029.5 682v3M1029.5 688v3M1029.5 694v3M1029.5 700v3M1029.5 706v3M1029.5 712v3M1029.5 718v3M1029.5 724v3M1029.5 730v3M1029.5 736v3M1029.5 742v3M1029.5 748v3M1029.5 754v3M1029.5 760v3M1029.5 766v3M1029.5 772v3M1029.5 778v3M1093.5 5v2M1093.5 10v3M1093.5 16v3M1093.5 22v3M1093.5 28v3M1093.5 34v3M1093.5 40v3M1093.5 46v3M1093.5 52v3M1093.5 58v3M1093.5 64v3M1093.5 70v3M1093.5 76v3M1093.5 82v3M1093.5 88v3M1093.5 94v3M1093.5 100v3M1093.5 106v3M1093.5 112v3M1093.5 118v3M1093.5 124v3M1093.5 130v3M1093.5 136v3M1093.5 142v3M1093.5 148v3M1093.5 154v3M1093.5 160v3M1093.5 166v3M1093.5 172v3M1093.5 178v3M1093.5 184v3M1093.5 190v3M1093.5 196v3M1093.5 202v3M1093.5 208v3M1093.5 214v3M1093.5 220v3M1093.5 226v3M1093.5 232v3M1093.5 238v3M1093.5 244v3M1093.5 250v3M1093.5 256v3M1093.5 262v3M1093.5 268v3M1093.5 274v3M1093.5 280v3M1093.5 286v3M1093.5 292v3M1093.5 298v3M1093.5 304v3M1093.5 310v3M1093.5 316v3M1093.5 322v3M1093.5 328v3M1093.5 334v3M1093.5 340v3M1093.5 346v3M1093.5 352v3M1093.5 358v3M1093.5 364v3M1093.5 370v3M1093.5 376v3M1093.5 382v3M1093.5 388v3M1093.5 394v3M1093.5 400v3M1093.5 406v3M1093.5 412v3M1093.5 418v3M1093.5 424v3M1093.5 430v3M1093.5 436v3M1093.5 442v3M1093.5 448v3M1093.5 454v3M1093.5 460v3M1093.5 466v3M1093.5 472v3M1093.5 478v3M1093.5 484v3M1093.5 490v3M1093.5 496v3M1093.5 502v3M1093.5 508v3M1093.5 514v3M1093.5 520v2M1093.5 526v3M1093.5 532v3M1093.5 538v3M1093.5 544v3M1093.5 550v3M1093.5 556v3M1093.5 562v3M1093.5 568v3M1093.5 574v3M1093.5 580v3M1093.5 586v3M1093.5 592v3M1093.5 598v3M1093.5 604v3M1093.5 610v3M1093.5 616v3M1093.5 622v3M1093.5 628v3M1093.5 634v3M1093.5 640v3M1093.5 646v3M1093.5 652v3M1093.5 658v3M1093.5 664v3M1093.5 670v3M1093.5 676v3M1093.5 682v3M1093.5 688v3M1093.5 694v3M1093.5 700v3M1093.5 706v3M1093.5 712v3M1093.5 718v3M1093.5 724v3M1093.5 730v3M1093.5 736v3M1093.5 742v3M1093.5 748v3M1093.5 754v3M1093.5 760v3M1093.5 766v3M1093.5 772v3M1093.5 778v3M1157.5 5v2M1157.5 10v3M1157.5 16v3M1157.5 22v3M1157.5 28v3M1157.5 34v3M1157.5 40v3M1157.5 46v3M1157.5 52v3M1157.5 58v3M1157.5 64v3M1157.5 70v3M1157.5 76v3M1157.5 82v3M1157.5 88v3M1157.5 94v3M1157.5 100v3M1157.5 106v3M1157.5 112v3M1157.5 118v3M1157.5 124v3M1157.5 130v3M1157.5 136v3M1157.5 142v3M1157.5 148v3M1157.5 154v3M1157.5 160v3M1157.5 166v3M1157.5 172v3M1157.5 178v3M1157.5 184v3M1157.5 190v3M1157.5 196v3M1157.5 202v3M1157.5 208v3M1157.5 214v3M1157.5 220v3M1157.5 226v3M1157.5 232v3M1157.5 238v3M1157.5 244v3M1157.5 250v3M1157.5 256v3M1157.5 262v3M1157.5 268v3M1157.5 274v3M1157.5 280v3M1157.5 286v3M1157.5 292v3M1157.5 298v3M1157.5 304v3M1157.5 310v3M1157.5 316v3M1157.5 322v3M1157.5 328v3M1157.5 334v3M1157.5 340v3M1157.5 346v3M1157.5 352v3M1157.5 358v3M1157.5 364v3M1157.5 370v3M1157.5 376v3M1157.5 382v3M1157.5 388v3M1157.5 394v3M1157.5 400v3M1157.5 406v3M1157.5 412v3M1157.5 418v3M1157.5 424v3M1157.5 430v3M1157.5 436v3M1157.5 442v3M1157.5 448v3M1157.5 454v3M1157.5 460v3M1157.5 466v3M1157.5 472v3M1157.5 478v3M1157.5 484v3M1157.5 490v3M1157.5 496v3M1157.5 502v3M1157.5 508v3M1157.5 514v3M1157.5 520v2M1157.5 526v3M1157.5 532v3M1157.5 538v3M1157.5 544v3M1157.5 550v3M1157.5 556v3M1157.5 562v3M1157.5 568v3M1157.5 574v3M1157.5 580v3M1157.5 586v3M1157.5 592v3M1157.5 598v3M1157.5 604v3M1157.5 610v3M1157.5 616v3M1157.5 622v3M1157.5 628v3M1157.5 634v3M1157.5 640v3M1157.5 646v3M1157.5 652v3M1157.5 658v3M1157.5 664v3M1157.5 670v3M1157.5 676v3M1157.5 682v3M1157.5 688v3M1157.5 694v3M1157.5 700v3M1157.5 706v3M1157.5 712v3M1157.5 718v3M1157.5 724v3M1157.5 730v3M1157.5 736v3M1157.5 742v3M1157.5 748v3M1157.5 754v3M1157.5 760v3M1157.5 766v3M1157.5 772v3M1157.5 778v3M1221.5 5v2M1221.5 10v3M1221.5 16v3M1221.5 22v3M1221.5 28v3M1221.5 34v3M1221.5 40v3M1221.5 46v3M1221.5 52v3M1221.5 58v3M1221.5 64v3M1221.5 70v3M1221.5 76v3M1221.5 82v3M1221.5 88v3M1221.5 94v3M1221.5 100v3M1221.5 106v3M1221.5 112v3M1221.5 118v3M1221.5 124v3M1221.5 130v3M1221.5 136v3M1221.5 142v3M1221.5 148v3M1221.5 154v3M1221.5 160v3M1221.5 166v3M1221.5 172v3M1221.5 178v3M1221.5 184v3M1221.5 190v3M1221.5 196v3M1221.5 202v3M1221.5 208v3M1221.5 214v3M1221.5 220v3M1221.5 226v3M1221.5 232v3M1221.5 238v3M1221.5 244v3M1221.5 250v3M1221.5 256v3M1221.5 262v3M1221.5 268v3M1221.5 274v3M1221.5 280v3M1221.5 286v3M1221.5 292v3M1221.5 298v3M1221.5 304v3M1221.5 310v3M1221.5 316v3M1221.5 322v3M1221.5 328v3M1221.5 334v3M1221.5 340v3M1221.5 346v3M1221.5 352v3M1221.5 358v3M1221.5 364v3M1221.5 370v3M1221.5 376v3M1221.5 382v3M1221.5 388v3M1221.5 394v3M1221.5 400v3M1221.5 406v3M1221.5 412v3M1221.5 418v3M1221.5 424v3M1221.5 430v3M1221.5 436v3M1221.5 442v3M1221.5 448v3M1221.5 454v3M1221.5 460v3M1221.5 466v3M1221.5 472v3M1221.5 478v3M1221.5 484v3M1221.5 490v3M1221.5 496v3M1221.5 502v3M1221.5 508v3M1221.5 514v3M1221.5 520v2M1221.5 526v3M1221.5 532v3M1221.5 538v3M1221.5 544v3M1221.5 550v3M1221.5 556v3M1221.5 562v3M1221.5 568v3M1221.5 574v3M1221.5 580v3M1221.5 586v3M1221.5 592v3M1221.5 598v3M1221.5 604v3M1221.5 610v3M1221.5 616v3M1221.5 622v3M1221.5 628v3M1221.5 634v3M1221.5 640v3M1221.5 646v3M1221.5 652v3M1221.5 658v3M1221.5 664v3M1221.5 670v3M1221.5 676v3M1221.5 682v3M1221.5 688v3M1221.5 694v3M1221.5 700v3M1221.5 706v3M1221.5 712v3M1221.5 718v3M1221.5 724v3M1221.5 730v3M1221.5 736v3M1221.5 742v3M1221.5 748v3M1221.5 754v3M1221.5 760v3M1221.5 766v3M1221.5 772v3M1221.5 778v3M1285.5 5v2M1285.5 10v3M1285.5 16v3M1285.5 22v3M1285.5 28v3M1285.5 34v3M1285.5 40v3M1285.5 46v3M1285.5 52v3M1285.5 58v3M1285.5 64v3M1285.5 70v3M1285.5 76v3M1285.5 82v3M1285.5 88v3M1285.5 94v3M1285.5 100v3M1285.5 106v3M1285.5 112v3M1285.5 118v3M1285.5 124v3M1285.5 130v3M1285.5 136v3M1285.5 142v3M1285.5 148v3M1285.5 154v3M1285.5 160v3M1285.5 166v3M1285.5 172v3M1285.5 178v3M1285.5 184v3M1285.5 190v3M1285.5 196v3M1285.5 202v3M1285.5 208v3M1285.5 214v3M1285.5 220v3M1285.5 226v3M1285.5 232v3M1285.5 238v3M1285.5 244v3M1285.5 250v3M1285.5 256v3M1285.5 262v3M1285.5 268v3M1285.5 274v3M1285.5 280v3M1285.5 286v3M1285.5 292v3M1285.5 298v3M1285.5 304v3M1285.5 310v3M1285.5 316v3M1285.5 322v3M1285.5 328v3M1285.5 334v3M1285.5 340v3M1285.5 346v3M1285.5 352v3M1285.5 358v3M1285.5 364v3M1285.5 370v3M1285.5 376v3M1285.5 382v3M1285.5 388v3M1285.5 394v3M1285.5 400v3M1285.5 406v3M1285.5 412v3M1285.5 418v3M1285.5 424v3M1285.5 430v3M1285.5 436v3M1285.5 442v3M1285.5 448v3M1285.5 454v3M1285.5 460v3M1285.5 466v3M1285.5 472v3M1285.5 478v3M1285.5 484v3M1285.5 490v3M1285.5 496v3M1285.5 502v3M1285.5 508v3M1285.5 514v3M1285.5 520v2M1285.5 526v3M1285.5 532v3M1285.5 538v3M1285.5 544v3M1285.5 550v3M1285.5 556v3M1285.5 562v3M1285.5 568v3M1285.5 574v3M1285.5 580v3M1285.5 586v3M1285.5 592v3M1285.5 598v3M1285.5 604v3M1285.5 610v3M1285.5 616v3M1285.5 622v3M1285.5 628v3M1285.5 634v3M1285.5 640v3M1285.5 646v3M1285.5 652v3M1285.5 658v3M1285.5 664v3M1285.5 670v3M1285.5 676v3M1285.5 682v3M1285.5 688v3M1285.5 694v3M1285.5 700v3M1285.5 706v3M1285.5 712v3M1285.5 718v3M1285.5 724v3M1285.5 730v3M1285.5 736v3M1285.5 742v3M1285.5 748v3M1285.5 754v3M1285.5 760v3M1285.5 766v3M1285.5 772v3M1285.5 778v3M1349.5 5v2M1349.5 10v3M1349.5 16v3M1349.5 22v3M1349.5 28v3M1349.5 34v3M1349.5 40v3M1349.5 46v3M1349.5 52v3M1349.5 58v3M1349.5 64v3M1349.5 70v3M1349.5 76v3M1349.5 82v3M1349.5 88v3M1349.5 94v3M1349.5 100v3M1349.5 106v3M1349.5 112v3M1349.5 118v3M1349.5 124v3M1349.5 130v3M1349.5 136v3M1349.5 142v3M1349.5 148v3M1349.5 154v3M1349.5 160v3M1349.5 166v3M1349.5 172v3M1349.5 178v3M1349.5 184v3M1349.5 190v3M1349.5 196v3M1349.5 202v3M1349.5 208v3M1349.5 214v3M1349.5 220v3M1349.5 226v3M1349.5 232v3M1349.5 238v3M1349.5 244v3M1349.5 250v3M1349.5 256v3M1349.5 262v3M1349.5 268v3M1349.5 274v3M1349.5 280v3M1349.5 286v3M1349.5 292v3M1349.5 298v3M1349.5 304v3M1349.5 310v3M1349.5 316v3M1349.5 322v3M1349.5 328v3M1349.5 334v3M1349.5 340v3M1349.5 346v3M1349.5 352v3M1349.5 358v3M1349.5 364v3M1349.5 370v3M1349.5 376v3M1349.5 382v3M1349.5 388v3M1349.5 394v3M1349.5 400v3M1349.5 406v3M1349.5 412v3M1349.5 418v3M1349.5 424v3M1349.5 430v3M1349.5 436v3M1349.5 442v3M1349.5 448v3M1349.5 454v3M1349.5 460v3M1349.5 466v3M1349.5 472v3M1349.5 478v3M1349.5 484v3M1349.5 490v3M1349.5 496v3M1349.5 502v3M1349.5 508v3M1349.5 514v3M1349.5 520v2M1349.5 526v3M1349.5 532v3M1349.5 538v3M1349.5 544v3M1349.5 550v3M1349.5 556v3M1349.5 562v3M1349.5 568v3M1349.5 574v3M1349.5 580v3M1349.5 586v3M1349.5 592v3M1349.5 598v3M1349.5 604v3M1349.5 610v3M1349.5 616v3M1349.5 622v3M1349.5 628v3M1349.5 634v3M1349.5 640v3M1349.5 646v3M1349.5 652v3M1349.5 658v3M1349.5 664v3M1349.5 670v3M1349.5 676v3M1349.5 682v3M1349.5 688v3M1349.5 694v3M1349.5 700v3M1349.5 706v3M1349.5 712v3M1349.5 718v3M1349.5 724v3M1349.5 730v3M1349.5 736v3M1349.5 742v3M1349.5 748v3M1349.5 754v3M1349.5 760v3M1349.5 766v3M1349.5 772v3M1349.5 778v3M1413.5 5v2M1413.5 10v3M1413.5 16v3M1413.5 22v3M1413.5 28v3M1413.5 34v3M1413.5 40v3M1413.5 46v3M1413.5 52v3M1413.5 58v3M1413.5 64v3M1413.5 70v3M1413.5 76v3M1413.5 82v3M1413.5 88v3M1413.5 94v3M1413.5 100v3M1413.5 106v3M1413.5 112v3M1413.5 118v3M1413.5 124v3M1413.5 130v3M1413.5 136v3M1413.5 142v3M1413.5 148v3M1413.5 154v3M1413.5 160v3M1413.5 166v3M1413.5 172v3M1413.5 178v3M1413.5 184v3M1413.5 190v3M1413.5 196v3M1413.5 202v3M1413.5 208v3M1413.5 214v3M1413.5 220v3M1413.5 226v3M1413.5 232v3M1413.5 238v3M1413.5 244v3M1413.5 250v3M1413.5 256v3M1413.5 262v3M1413.5 268v3M1413.5 274v3M1413.5 280v3M1413.5 286v3M1413.5 292v3M1413.5 298v3M1413.5 304v3M1413.5 310v3M1413.5 316v3M1413.5 322v3M1413.5 328v3M1413.5 334v3M1413.5 340v3M1413.5 346v3M1413.5 352v3M1413.5 358v3M1413.5 364v3M1413.5 370v3M1413.5 376v3M1413.5 382v3M1413.5 388v3M1413.5 394v3M1413.5 400v3M1413.5 406v3M1413.5 412v3M1413.5 418v3M1413.5 424v3M1413.5 430v3M1413.5 436v3M1413.5 442v3M1413.5 448v3M1413.5 454v3M1413.5 460v3M1413.5 466v3M1413.5 472v3M1413.5 478v3M1413.5 484v3M1413.5 490v3M1413.5 496v3M1413.5 502v3M1413.5 508v3M1413.5 514v3M1413.5 520v2M1413.5 526v3M1413.5 532v3M1413.5 538v3M1413.5 544v3M1413.5 550v3M1413.5 556v3M1413.5 562v3M1413.5 568v3M1413.5 574v3M1413.5 580v3M1413.5 586v3M1413.5 592v3M1413.5 598v3M1413.5 604v3M1413.5 610v3M1413.5 616v3M1413.5 622v3M1413.5 628v3M1413.5 634v3M1413.5 640v3M1413.5 646v3M1413.5 652v3M1413.5 658v3M1413.5 664v3M1413.5 670v3M1413.5 676v3M1413.5 682v3M1413.5 688v3M1413.5 694v3M1413.5 700v3M1413.5 706v3M1413.5 712v3M1413.5 718v3M1413.5 724v3M1413.5 730v3M1413.5 736v3M1413.5 742v3M1413.5 748v3M1413.5 754v3M1413.5 760v3M1413.5 766v3M1413.5 772v3M1413.5 778v3M1477.5 5v2M1477.5 10v3M1477.5 16v3M1477.5 22v3M1477.5 28v3M1477.5 34v3M1477.5 40v3M1477.5 46v3M1477.5 52v3M1477.5 58v3M1477.5 64v3M1477.5 70v3M1477.5 76v3M1477.5 82v3M1477.5 88v3M1477.5 94v3M1477.5 100v3M1477.5 106v3M1477.5 112v3M1477.5 118v3M1477.5 124v3M1477.5 130v3M1477.5 136v3M1477.5 142v3M1477.5 148v3M1477.5 154v3M1477.5 160v3M1477.5 166v3M1477.5 172v3M1477.5 178v3M1477.5 184v3M1477.5 190v3M1477.5 196v3M1477.5 202v3M1477.5 208v3M1477.5 214v3M1477.5 220v3M1477.5 226v3M1477.5 232v3M1477.5 238v3M1477.5 244v3M1477.5 250v3M1477.5 256v3M1477.5 262v3M1477.5 268v3M1477.5 274v3M1477.5 280v3M1477.5 286v3M1477.5 292v3M1477.5 298v3M1477.5 304v3M1477.5 310v3M1477.5 316v3M1477.5 322v3M1477.5 328v3M1477.5 334v3M1477.5 340v3M1477.5 346v3M1477.5 352v3M1477.5 358v3M1477.5 364v3M1477.5 370v3M1477.5 376v3M1477.5 382v3M1477.5 388v3M1477.5 394v3M1477.5 400v3M1477.5 406v3M1477.5 412v3M1477.5 418v3M1477.5 424v3M1477.5 430v3M1477.5 436v3M1477.5 442v3M1477.5 448v3M1477.5 454v3M1477.5 460v3M1477.5 466v3M1477.5 472v3M1477.5 478v3M1477.5 484v3M1477.5 490v3M1477.5 496v3M1477.5 502v3M1477.5 508v3M1477.5 514v3M1477.5 520v2M1477.5 526v3M1477.5 532v3M1477.5 538v3M1477.5 544v3M1477.5 550v3M1477.5 556v3M1477.5 562v3M1477.5 568v3M1477.5 574v3M1477.5 580v3M1477.5 586v3M1477.5 592v3M1477.5 598v3M1477.5 604v3M1477.5 610v3M1477.5 616v3M1477.5 622v3M1477.5 628v3M1477.5 634v3M1477.5 640v3M1477.5 646v3M1477.5 652v3M1477.5 658v3M1477.5 664v3M1477.5 670v3M1477.5 676v3M1477.5 682v3M1477.5 688v3M1477.5 694v3M1477.5 700v3M1477.5 706v3M1477.5 712v3M1477.5 718v3M1477.5 724v3M1477.5 730v3M1477.5 736v3M1477.5 742v3M1477.5 748v3M1477.5 754v3M1477.5 760v3M1477.5 766v3M1477.5 772v3M1477.5 778v3M6 32.5h3M12 32.5h3M18 32.5h3M24 32.5h3M30 32.5h3M36 32.5h3M42 32.5h3M48 32.5h3M54 32.5h3M60 32.5h3M66 32.5h3M72 32.5h3M78 32.5h3M84 32.5h3M90 32.5h3M96 32.5h3M102 32.5h3M108 32.5h3M114 32.5h3M120 32.5h3M126 32.5h3M132 32.5h3M138 32.5h3M144 32.5h3M150 32.5h3M156 32.5h3M162 32.5h3M168 32.5h3M174 32.5h3M180 32.5h3M186 32.5h3M192 32.5h3M198 32.5h3M204 32.5h3M210 32.5h3M216 32.5h3M222 32.5h3M228 32.5h3M234 32.5h3M240 32.5h3M246 32.5h3M252 32.5h3M258 32.5h3M264 32.5h3M270 32.5h3M276 32.5h3M282 32.5h3M288 32.5h3M294 32.5h3M300 32.5h3M306 32.5h3M312 32.5h3M318 32.5h3M324 32.5h3M330 32.5h3M336 32.5h3M342 32.5h3M348 32.5h3M354 32.5h3M360 32.5h3M366 32.5h3M372 32.5h3M378 32.5h3M384 32.5h3M390 32.5h3M396 32.5h3M402 32.5h3M408 32.5h3M414 32.5h3M420 32.5h3M426 32.5h3M432 32.5h3M438 32.5h3M444 32.5h3M450 32.5h3M456 32.5h3M462 32.5h3M468 32.5h3M474 32.5h3M480 32.5h3M486 32.5h3M492 32.5h3M498 32.5h3M504 32.5h3M510 32.5h3M516 32.5h3M522 32.5h3M528 32.5h3M534 32.5h3M540 32.5h3M546 32.5h3M552 32.5h3M558 32.5h3M564 32.5h3M570 32.5h3M576 32.5h3M582 32.5h3M588 32.5h3M594 32.5h3M600 32.5h3M606 32.5h3M612 32.5h3M618 32.5h3M624 32.5h3M630 32.5h3M636 32.5h3M642 32.5h3M648 32.5h3M654 32.5h3M660 32.5h3M666 32.5h3M672 32.5h3M678 32.5h3M684 32.5h3M690 32.5h3M696 32.5h3M702 32.5h3M708 32.5h3M714 32.5h3M720 32.5h3M726 32.5h3M732 32.5h3M738 32.5h3M744 32.5h3M750 32.5h3M756 32.5h3M762 32.5h3M768 32.5h3M774 32.5h3M780 32.5h3M786 32.5h3M792 32.5h3M798 32.5h3M804 32.5h3M810 32.5h3M816 32.5h3M822 32.5h3M828 32.5h3M834 32.5h3M840 32.5h3M846 32.5h3M852 32.5h3M858 32.5h3M864 32.5h3M870 32.5h3M876 32.5h3M882 32.5h3M888 32.5h3M894 32.5h3M900 32.5h3M906 32.5h3M912 32.5h3M918 32.5h3M924 32.5h3M930 32.5h3M936 32.5h3M942 32.5h3M948 32.5h3M954 32.5h3M960 32.5h3M966 32.5h3M972 32.5h3M978 32.5h3M984 32.5h3M990 32.5h3M996 32.5h3M1002 32.5h3M1008 32.5h3M1014 32.5h3M1020 32.5h3M1026 32.5h3M1032 32.5h3M1038 32.5h3M1044 32.5h3M1050 32.5h3M1056 32.5h3M1062 32.5h3M1068 32.5h3M1074 32.5h3M1080 32.5h3M1086 32.5h3M1092 32.5h3M1098 32.5h3M1104 32.5h3M1110 32.5h3M1116 32.5h3M1122 32.5h3M1128 32.5h3M1134 32.5h3M1140 32.5h3M1146 32.5h3M1152 32.5h3M1158 32.5h3M1164 32.5h3M1170 32.5h3M1176 32.5h3M1182 32.5h3M1188 32.5h3M1194 32.5h3M1200 32.5h3M1206 32.5h3M1212 32.5h3M1218 32.5h3M1224 32.5h3M1230 32.5h3M1236 32.5h3M1242 32.5h3M1248 32.5h3M1254 32.5h3M1260 32.5h3M1266 32.5h3M1272 32.5h3M1278 32.5h3M1284 32.5h3M1290 32.5h3M1296 32.5h3M1302 32.5h3M1308 32.5h3M1314 32.5h3M1320 32.5h3M1326 32.5h3M1332 32.5h3M1338 32.5h3M1344 32.5h3M1350 32.5h3M1356 32.5h3M1362 32.5h3M1368 32.5h3M1374 32.5h3M1380 32.5h3M1386 32.5h3M1392 32.5h3M1398 32.5h3M1404 32.5h3M1410 32.5h3M1416 32.5h3M1422 32.5h3M1428 32.5h3M1434 32.5h3M1440 32.5h3M1446 32.5h3M1452 32.5h3M1458 32.5h3M1464 32.5h3M1470 32.5h3M1476 32.5h3M1482 32.5h3M1488 32.5h3M1494 32.5h3M1500 32.5h3M1506 32.5h3M1512 32.5h3M6 97.5h3M12 97.5h3M18 97.5h3M24 97.5h3M30 97.5h3M36 97.5h3M42 97.5h3M48 97.5h3M54 97.5h3M60 97.5h3M66 97.5h3M72 97.5h3M78 97.5h3M84 97.5h3M90 97.5h3M96 97.5h3M102 97.5h3M108 97.5h3M114 97.5h3M120 97.5h3M126 97.5h3M132 97.5h3M138 97.5h3M144 97.5h3M150 97.5h3M156 97.5h3M162 97.5h3M168 97.5h3M174 97.5h3M180 97.5h3M186 97.5h3M192 97.5h3M198 97.5h3M204 97.5h3M210 97.5h3M216 97.5h3M222 97.5h3M228 97.5h3M234 97.5h3M240 97.5h3M246 97.5h3M252 97.5h3M258 97.5h3M264 97.5h3M270 97.5h3M276 97.5h3M282 97.5h3M288 97.5h3M294 97.5h3M300 97.5h3M306 97.5h3M312 97.5h3M318 97.5h3M324 97.5h3M330 97.5h3M336 97.5h3M342 97.5h3M348 97.5h3M354 97.5h3M360 97.5h3M366 97.5h3M372 97.5h3M378 97.5h3M384 97.5h3M390 97.5h3M396 97.5h3M402 97.5h3M408 97.5h3M414 97.5h3M420 97.5h3M426 97.5h3M432 97.5h3M438 97.5h3M444 97.5h3M450 97.5h3M456 97.5h3M462 97.5h3M468 97.5h3M474 97.5h3M480 97.5h3M486 97.5h3M492 97.5h3M498 97.5h3M504 97.5h3M510 97.5h3M516 97.5h3M522 97.5h3M528 97.5h3M534 97.5h3M540 97.5h3M546 97.5h3M552 97.5h3M558 97.5h3M564 97.5h3M570 97.5h3M576 97.5h3M582 97.5h3M588 97.5h3M594 97.5h3M600 97.5h3M606 97.5h3M612 97.5h3M618 97.5h3M624 97.5h3M630 97.5h3M636 97.5h3M642 97.5h3M648 97.5h3M654 97.5h3M660 97.5h3M666 97.5h3M672 97.5h3M678 97.5h3M684 97.5h3M690 97.5h3M696 97.5h3M702 97.5h3M708 97.5h3M714 97.5h3M720 97.5h3M726 97.5h3M732 97.5h3M738 97.5h3M744 97.5h3M750 97.5h3M756 97.5h3M762 97.5h3M768 97.5h3M774 97.5h3M780 97.5h3M786 97.5h3M792 97.5h3M798 97.5h3M804 97.5h3M810 97.5h3M816 97.5h3M822 97.5h3M828 97.5h3M834 97.5h3M840 97.5h3M846 97.5h3M852 97.5h3M858 97.5h3M864 97.5h3M870 97.5h3M876 97.5h3M882 97.5h3M888 97.5h3M894 97.5h3M900 97.5h3M906 97.5h3M912 97.5h3M918 97.5h3M924 97.5h3M930 97.5h3M936 97.5h3M942 97.5h3M948 97.5h3M954 97.5h3M960 97.5h3M966 97.5h3M972 97.5h3M978 97.5h3M984 97.5h3M990 97.5h3M996 97.5h3M1002 97.5h3M1008 97.5h3M1014 97.5h3M1020 97.5h3M1026 97.5h3M1032 97.5h3M1038 97.5h3M1044 97.5h3M1050 97.5h3M1056 97.5h3M1062 97.5h3M1068 97.5h3M1074 97.5h3M1080 97.5h3M1086 97.5h3M1092 97.5h3M1098 97.5h3M1104 97.5h3M1110 97.5h3M1116 97.5h3M1122 97.5h3M1128 97.5h3M1134 97.5h3M1140 97.5h3M1146 97.5h3M1152 97.5h3M1158 97.5h3M1164 97.5h3M1170 97.5h3M1176 97.5h3M1182 97.5h3M1188 97.5h3M1194 97.5h3M1200 97.5h3M1206 97.5h3M1212 97.5h3M1218 97.5h3M1224 97.5h3M1230 97.5h3M1236 97.5h3M1242 97.5h3M1248 97.5h3M1254 97.5h3M1260 97.5h3M1266 97.5h3M1272 97.5h3M1278 97.5h3M1284 97.5h3M1290 97.5h3M1296 97.5h3M1302 97.5h3M1308 97.5h3M1314 97.5h3M1320 97.5h3M1326 97.5h3M1332 97.5h3M1338 97.5h3M1344 97.5h3M1350 97.5h3M1356 97.5h3M1362 97.5h3M1368 97.5h3M1374 97.5h3M1380 97.5h3M1386 97.5h3M1392 97.5h3M1398 97.5h3M1404 97.5h3M1410 97.5h3M1416 97.5h3M1422 97.5h3M1428 97.5h3M1434 97.5h3M1440 97.5h3M1446 97.5h3M1452 97.5h3M1458 97.5h3M1464 97.5h3M1470 97.5h3M1476 97.5h3M1482 97.5h3M1488 97.5h3M1494 97.5h3M1500 97.5h3M1506 97.5h3M1512 97.5h3M6 162.5h3M12 162.5h3M18 162.5h3M24 162.5h3M30 162.5h3M36 162.5h3M42 162.5h3M48 162.5h3M54 162.5h3M60 162.5h3M66 162.5h3M72 162.5h3M78 162.5h3M84 162.5h3M90 162.5h3M96 162.5h3M102 162.5h3M108 162.5h3M114 162.5h3M120 162.5h3M126 162.5h3M132 162.5h3M138 162.5h3M144 162.5h3M150 162.5h3M156 162.5h3M162 162.5h3M168 162.5h3M174 162.5h3M180 162.5h3M186 162.5h3M192 162.5h3M198 162.5h3M204 162.5h3M210 162.5h3M216 162.5h3M222 162.5h3M228 162.5h3M234 162.5h3M240 162.5h3M246 162.5h3M252 162.5h3M258 162.5h3M264 162.5h3M270 162.5h3M276 162.5h3M282 162.5h3M288 162.5h3M294 162.5h3M300 162.5h3M306 162.5h3M312 162.5h3M318 162.5h3M324 162.5h3M330 162.5h3M336 162.5h3M342 162.5h3M348 162.5h3M354 162.5h3M360 162.5h3M366 162.5h3M372 162.5h3M378 162.5h3M384 162.5h3M390 162.5h3M396 162.5h3M402 162.5h3M408 162.5h3M414 162.5h3M420 162.5h3M426 162.5h3M432 162.5h3M438 162.5h3M444 162.5h3M450 162.5h3M456 162.5h3M462 162.5h3M468 162.5h3M474 162.5h3M480 162.5h3M486 162.5h3M492 162.5h3M498 162.5h3M504 162.5h3M510 162.5h3M516 162.5h3M522 162.5h3M528 162.5h3M534 162.5h3M540 162.5h3M546 162.5h3M552 162.5h3M558 162.5h3M564 162.5h3M570 162.5h3M576 162.5h3M582 162.5h3M588 162.5h3M594 162.5h3M600 162.5h3M606 162.5h3M612 162.5h3M618 162.5h3M624 162.5h3M630 162.5h3M636 162.5h3M642 162.5h3M648 162.5h3M654 162.5h3M660 162.5h3M666 162.5h3M672 162.5h3M678 162.5h3M684 162.5h3M690 162.5h3M696 162.5h3M702 162.5h3M708 162.5h3M714 162.5h3M720 162.5h3M726 162.5h3M732 162.5h3M738 162.5h3M744 162.5h3M750 162.5h3M756 162.5h3M762 162.5h3M768 162.5h3M774 162.5h3M780 162.5h3M786 162.5h3M792 162.5h3M798 162.5h3M804 162.5h3M810 162.5h3M816 162.5h3M822 162.5h3M828 162.5h3M834 162.5h3M840 162.5h3M846 162.5h3M852 162.5h3M858 162.5h3M864 162.5h3M870 162.5h3M876 162.5h3M882 162.5h3M888 162.5h3M894 162.5h3M900 162.5h3M906 162.5h3M912 162.5h3M918 162.5h3M924 162.5h3M930 162.5h3M936 162.5h3M942 162.5h3M948 162.5h3M954 162.5h3M960 162.5h3M966 162.5h3M972 162.5h3M978 162.5h3M984 162.5h3M990 162.5h3M996 162.5h3M1002 162.5h3M1008 162.5h3M1014 162.5h3M1020 162.5h3M1026 162.5h3M1032 162.5h3M1038 162.5h3M1044 162.5h3M1050 162.5h3M1056 162.5h3M1062 162.5h3M1068 162.5h3M1074 162.5h3M1080 162.5h3M1086 162.5h3M1092 162.5h3M1098 162.5h3M1104 162.5h3M1110 162.5h3M1116 162.5h3M1122 162.5h3M1128 162.5h3M1134 162.5h3M1140 162.5h3M1146 162.5h3M1152 162.5h3M1158 162.5h3M1164 162.5h3M1170 162.5h3M1176 162.5h3M1182 162.5h3M1188 162.5h3M1194 162.5h3M1200 162.5h3M1206 162.5h3M1212 162.5h3M1218 162.5h3M1224 162.5h3M1230 162.5h3M1236 162.5h3M1242 162.5h3M1248 162.5h3M1254 162.5h3M1260 162.5h3M1266 162.5h3M1272 162.5h3M1278 162.5h3M1284 162.5h3M1290 162.5h3M1296 162.5h3M1302 162.5h3M1308 162.5h3M1314 162.5h3M1320 162.5h3M1326 162.5h3M1332 162.5h3M1338 162.5h3M1344 162.5h3M1350 162.5h3M1356 162.5h3M1362 162.5h3M1368 162.5h3M1374 162.5h3M1380 162.5h3M1386 162.5h3M1392 162.5h3M1398 162.5h3M1404 162.5h3M1410 162.5h3M1416 162.5h3M1422 162.5h3M1428 162.5h3M1434 162.5h3M1440 162.5h3M1446 162.5h3M1452 162.5h3M1458 162.5h3M1464 162.5h3M1470 162.5h3M1476 162.5h3M1482 162.5h3M1488 162.5h3M1494 162.5h3M1500 162.5h3M1506 162.5h3M1512 162.5h3M6 227.5h3M12 227.5h3M18 227.5h3M24 227.5h3M30 227.5h3M36 227.5h3M42 227.5h3M48 227.5h3M54 227.5h3M60 227.5h3M66 227.5h3M72 227.5h3M78 227.5h3M84 227.5h3M90 227.5h3M96 227.5h3M102 227.5h3M108 227.5h3M114 227.5h3M120 227.5h3M126 227.5h3M132 227.5h3M138 227.5h3M144 227.5h3M150 227.5h3M156 227.5h3M162 227.5h3M168 227.5h3M174 227.5h3M180 227.5h3M186 227.5h3M192 227.5h3M198 227.5h3M204 227.5h3M210 227.5h3M216 227.5h3M222 227.5h3M228 227.5h3M234 227.5h3M240 227.5h3M246 227.5h3M252 227.5h3M258 227.5h3M264 227.5h3M270 227.5h3M276 227.5h3M282 227.5h3M288 227.5h3M294 227.5h3M300 227.5h3M306 227.5h3M312 227.5h3M318 227.5h3M324 227.5h3M330 227.5h3M336 227.5h3M342 227.5h3M348 227.5h3M354 227.5h3M360 227.5h3M366 227.5h3M372 227.5h3M378 227.5h3M384 227.5h3M390 227.5h3M396 227.5h3M402 227.5h3M408 227.5h3M414 227.5h3M420 227.5h3M426 227.5h3M432 227.5h3M438 227.5h3M444 227.5h3M450 227.5h3M456 227.5h3M462 227.5h3M468 227.5h3M474 227.5h3M480 227.5h3M486 227.5h3M492 227.5h3M498 227.5h3M504 227.5h3M510 227.5h3M516 227.5h3M522 227.5h3M528 227.5h3M534 227.5h3M540 227.5h3M546 227.5h3M552 227.5h3M558 227.5h3M564 227.5h3M570 227.5h3M576 227.5h3M582 227.5h3M588 227.5h3M594 227.5h3M600 227.5h3M606 227.5h3M612 227.5h3M618 227.5h3M624 227.5h3M630 227.5h3M636 227.5h3M642 227.5h3M648 227.5h3M654 227.5h3M660 227.5h3M666 227.5h3M672 227.5h3M678 227.5h3M684 227.5h3M690 227.5h3M696 227.5h3M702 227.5h3M708 227.5h3M714 227.5h3M720 227.5h3M726 227.5h3M732 227.5h3M738 227.5h3M744 227.5h3M750 227.5h3M756 227.5h3M762 227.5h3M768 227.5h3M774 227.5h3M780 227.5h3M786 227.5h3M792 227.5h3M798 227.5h3M804 227.5h3M810 227.5h3M816 227.5h3M822 227.5h3M828 227.5h3M834 227.5h3M840 227.5h3M846 227.5h3M852 227.5h3M858 227.5h3M864 227.5h3M870 227.5h3M876 227.5h3M882 227.5h3M888 227.5h3M894 227.5h3M900 227.5h3M906 227.5h3M912 227.5h3M918 227.5h3M924 227.5h3M930 227.5h3M936 227.5h3M942 227.5h3M948 227.5h3M954 227.5h3M960 227.5h3M966 227.5h3M972 227.5h3M978 227.5h3M984 227.5h3M990 227.5h3M996 227.5h3M1002 227.5h3M1008 227.5h3M1014 227.5h3M1020 227.5h3M1026 227.5h3M1032 227.5h3M1038 227.5h3M1044 227.5h3M1050 227.5h3M1056 227.5h3M1062 227.5h3M1068 227.5h3M1074 227.5h3M1080 227.5h3M1086 227.5h3M1092 227.5h3M1098 227.5h3M1104 227.5h3M1110 227.5h3M1116 227.5h3M1122 227.5h3M1128 227.5h3M1134 227.5h3M1140 227.5h3M1146 227.5h3M1152 227.5h3M1158 227.5h3M1164 227.5h3M1170 227.5h3M1176 227.5h3M1182 227.5h3M1188 227.5h3M1194 227.5h3M1200 227.5h3M1206 227.5h3M1212 227.5h3M1218 227.5h3M1224 227.5h3M1230 227.5h3M1236 227.5h3M1242 227.5h3M1248 227.5h3M1254 227.5h3M1260 227.5h3M1266 227.5h3M1272 227.5h3M1278 227.5h3M1284 227.5h3M1290 227.5h3M1296 227.5h3M1302 227.5h3M1308 227.5h3M1314 227.5h3M1320 227.5h3M1326 227.5h3M1332 227.5h3M1338 227.5h3M1344 227.5h3M1350 227.5h3M1356 227.5h3M1362 227.5h3M1368 227.5h3M1374 227.5h3M1380 227.5h3M1386 227.5h3M1392 227.5h3M1398 227.5h3M1404 227.5h3M1410 227.5h3M1416 227.5h3M1422 227.5h3M1428 227.5h3M1434 227.5h3M1440 227.5h3M1446 227.5h3M1452 227.5h3M1458 227.5h3M1464 227.5h3M1470 227.5h3M1476 227.5h3M1482 227.5h3M1488 227.5h3M1494 227.5h3M1500 227.5h3M1506 227.5h3M1512 227.5h3M6 292.5h3M12 292.5h3M18 292.5h3M24 292.5h3M30 292.5h3M36 292.5h3M42 292.5h3M48 292.5h3M54 292.5h3M60 292.5h3M66 292.5h3M72 292.5h3M78 292.5h3M84 292.5h3M90 292.5h3M96 292.5h3M102 292.5h3M108 292.5h3M114 292.5h3M120 292.5h3M126 292.5h3M132 292.5h3M138 292.5h3M144 292.5h3M150 292.5h3M156 292.5h3M162 292.5h3M168 292.5h3M174 292.5h3M180 292.5h3M186 292.5h3M192 292.5h3M198 292.5h3M204 292.5h3M210 292.5h3M216 292.5h3M222 292.5h3M228 292.5h3M234 292.5h3M240 292.5h3M246 292.5h3M252 292.5h3M258 292.5h3M264 292.5h3M270 292.5h3M276 292.5h3M282 292.5h3M288 292.5h3M294 292.5h3M300 292.5h3M306 292.5h3M312 292.5h3M318 292.5h3M324 292.5h3M330 292.5h3M336 292.5h3M342 292.5h3M348 292.5h3M354 292.5h3M360 292.5h3M366 292.5h3M372 292.5h3M378 292.5h3M384 292.5h3M390 292.5h3M396 292.5h3M402 292.5h3M408 292.5h3M414 292.5h3M420 292.5h3M426 292.5h3M432 292.5h3M438 292.5h3M444 292.5h3M450 292.5h3M456 292.5h3M462 292.5h3M468 292.5h3M474 292.5h3M480 292.5h3M486 292.5h3M492 292.5h3M498 292.5h3M504 292.5h3M510 292.5h3M516 292.5h3M522 292.5h3M528 292.5h3M534 292.5h3M540 292.5h3M546 292.5h3M552 292.5h3M558 292.5h3M564 292.5h3M570 292.5h3M576 292.5h3M582 292.5h3M588 292.5h3M594 292.5h3M600 292.5h3M606 292.5h3M612 292.5h3M618 292.5h3M624 292.5h3M630 292.5h3M636 292.5h3M642 292.5h3M648 292.5h3M654 292.5h3M660 292.5h3M666 292.5h3M672 292.5h3M678 292.5h3M684 292.5h3M690 292.5h3M696 292.5h3M702 292.5h3M708 292.5h3M714 292.5h3M720 292.5h3M726 292.5h3M732 292.5h3M738 292.5h3M744 292.5h3M750 292.5h3M756 292.5h3M762 292.5h3M768 292.5h3M774 292.5h3M780 292.5h3M786 292.5h3M792 292.5h3M798 292.5h3M804 292.5h3M810 292.5h3M816 292.5h3M822 292.5h3M828 292.5h3M834 292.5h3M840 292.5h3M846 292.5h3M852 292.5h3M858 292.5h3M864 292.5h3M870 292.5h3M876 292.5h3M882 292.5h3M888 292.5h3M894 292.5h3M900 292.5h3M906 292.5h3M912 292.5h3M918 292.5h3M924 292.5h3M930 292.5h3M936 292.5h3M942 292.5h3M948 292.5h3M954 292.5h3M960 292.5h3M966 292.5h3M972 292.5h3M978 292.5h3M984 292.5h3M990 292.5h3M996 292.5h3M1002 292.5h3M1008 292.5h3M1014 292.5h3M1020 292.5h3M1026 292.5h3M1032 292.5h3M1038 292.5h3M1044 292.5h3M1050 292.5h3M1056 292.5h3M1062 292.5h3M1068 292.5h3M1074 292.5h3M1080 292.5h3M1086 292.5h3M1092 292.5h3M1098 292.5h3M1104 292.5h3M1110 292.5h3M1116 292.5h3M1122 292.5h3M1128 292.5h3M1134 292.5h3M1140 292.5h3M1146 292.5h3M1152 292.5h3M1158 292.5h3M1164 292.5h3M1170 292.5h3M1176 292.5h3M1182 292.5h3M1188 292.5h3M1194 292.5h3M1200 292.5h3M1206 292.5h3M1212 292.5h3M1218 292.5h3M1224 292.5h3M1230 292.5h3M1236 292.5h3M1242 292.5h3M1248 292.5h3M1254 292.5h3M1260 292.5h3M1266 292.5h3M1272 292.5h3M1278 292.5h3M1284 292.5h3M1290 292.5h3M1296 292.5h3M1302 292.5h3M1308 292.5h3M1314 292.5h3M1320 292.5h3M1326 292.5h3M1332 292.5h3M1338 292.5h3M1344 292.5h3M1350 292.5h3M1356 292.5h3M1362 292.5h3M1368 292.5h3M1374 292.5h3M1380 292.5h3M1386 292.5h3M1392 292.5h3M1398 292.5h3M1404 292.5h3M1410 292.5h3M1416 292.5h3M1422 292.5h3M1428 292.5h3M1434 292.5h3M1440 292.5h3M1446 292.5h3M1452 292.5h3M1458 292.5h3M1464 292.5h3M1470 292.5h3M1476 292.5h3M1482 292.5h3M1488 292.5h3M1494 292.5h3M1500 292.5h3M1506 292.5h3M1512 292.5h3M6 357.5h3M12 357.5h3M18 357.5h3M24 357.5h3M30 357.5h3M36 357.5h3M42 357.5h3M48 357.5h3M54 357.5h3M60 357.5h3M66 357.5h3M72 357.5h3M78 357.5h3M84 357.5h3M90 357.5h3M96 357.5h3M102 357.5h3M108 357.5h3M114 357.5h3M120 357.5h3M126 357.5h3M132 357.5h3M138 357.5h3M144 357.5h3M150 357.5h3M156 357.5h3M162 357.5h3M168 357.5h3M174 357.5h3M180 357.5h3M186 357.5h3M192 357.5h3M198 357.5h3M204 357.5h3M210 357.5h3M216 357.5h3M222 357.5h3M228 357.5h3M234 357.5h3M240 357.5h3M246 357.5h3M252 357.5h3M258 357.5h3M264 357.5h3M270 357.5h3M276 357.5h3M282 357.5h3M288 357.5h3M294 357.5h3M300 357.5h3M306 357.5h3M312 357.5h3M318 357.5h3M324 357.5h3M330 357.5h3M336 357.5h3M342 357.5h3M348 357.5h3M354 357.5h3M360 357.5h3M366 357.5h3M372 357.5h3M378 357.5h3M384 357.5h3M390 357.5h3M396 357.5h3M402 357.5h3M408 357.5h3M414 357.5h3M420 357.5h3M426 357.5h3M432 357.5h3M438 357.5h3M444 357.5h3M450 357.5h3M456 357.5h3M462 357.5h3M468 357.5h3M474 357.5h3M480 357.5h3M486 357.5h3M492 357.5h3M498 357.5h3M504 357.5h3M510 357.5h3M516 357.5h3M522 357.5h3M528 357.5h3M534 357.5h3M540 357.5h3M546 357.5h3M552 357.5h3M558 357.5h3M564 357.5h3M570 357.5h3M576 357.5h3M582 357.5h3M588 357.5h3M594 357.5h3M600 357.5h3M606 357.5h3M612 357.5h3M618 357.5h3M624 357.5h3M630 357.5h3M636 357.5h3M642 357.5h3M648 357.5h3M654 357.5h3M660 357.5h3M666 357.5h3M672 357.5h3M678 357.5h3M684 357.5h3M690 357.5h3M696 357.5h3M702 357.5h3M708 357.5h3M714 357.5h3M720 357.5h3M726 357.5h3M732 357.5h3M738 357.5h3M744 357.5h3M750 357.5h3M756 357.5h3M762 357.5h3M768 357.5h3M774 357.5h3M780 357.5h3M786 357.5h3M792 357.5h3M798 357.5h3M804 357.5h3M810 357.5h3M816 357.5h3M822 357.5h3M828 357.5h3M834 357.5h3M840 357.5h3M846 357.5h3M852 357.5h3M858 357.5h3M864 357.5h3M870 357.5h3M876 357.5h3M882 357.5h3M888 357.5h3M894 357.5h3M900 357.5h3M906 357.5h3M912 357.5h3M918 357.5h3M924 357.5h3M930 357.5h3M936 357.5h3M942 357.5h3M948 357.5h3M954 357.5h3M960 357.5h3M966 357.5h3M972 357.5h3M978 357.5h3M984 357.5h3M990 357.5h3M996 357.5h3M1002 357.5h3M1008 357.5h3M1014 357.5h3M1020 357.5h3M1026 357.5h3M1032 357.5h3M1038 357.5h3M1044 357.5h3M1050 357.5h3M1056 357.5h3M1062 357.5h3M1068 357.5h3M1074 357.5h3M1080 357.5h3M1086 357.5h3M1092 357.5h3M1098 357.5h3M1104 357.5h3M1110 357.5h3M1116 357.5h3M1122 357.5h3M1128 357.5h3M1134 357.5h3M1140 357.5h3M1146 357.5h3M1152 357.5h3M1158 357.5h3M1164 357.5h3M1170 357.5h3M1176 357.5h3M1182 357.5h3M1188 357.5h3M1194 357.5h3M1200 357.5h3M1206 357.5h3M1212 357.5h3M1218 357.5h3M1224 357.5h3M1230 357.5h3M1236 357.5h3M1242 357.5h3M1248 357.5h3M1254 357.5h3M1260 357.5h3M1266 357.5h3M1272 357.5h3M1278 357.5h3M1284 357.5h3M1290 357.5h3M1296 357.5h3M1302 357.5h3M1308 357.5h3M1314 357.5h3M1320 357.5h3M1326 357.5h3M1332 357.5h3M1338 357.5h3M1344 357.5h3M1350 357.5h3M1356 357.5h3M1362 357.5h3M1368 357.5h3M1374 357.5h3M1380 357.5h3M1386 357.5h3M1392 357.5h3M1398 357.5h3M1404 357.5h3M1410 357.5h3M1416 357.5h3M1422 357.5h3M1428 357.5h3M1434 357.5h3M1440 357.5h3M1446 357.5h3M1452 357.5h3M1458 357.5h3M1464 357.5h3M1470 357.5h3M1476 357.5h3M1482 357.5h3M1488 357.5h3M1494 357.5h3M1500 357.5h3M1506 357.5h3M1512 357.5h3M6 422.5h3M12 422.5h3M18 422.5h3M24 422.5h3M30 422.5h3M36 422.5h3M42 422.5h3M48 422.5h3M54 422.5h3M60 422.5h3M66 422.5h3M72 422.5h3M78 422.5h3M84 422.5h3M90 422.5h3M96 422.5h3M102 422.5h3M108 422.5h3M114 422.5h3M120 422.5h3M126 422.5h3M132 422.5h3M138 422.5h3M144 422.5h3M150 422.5h3M156 422.5h3M162 422.5h3M168 422.5h3M174 422.5h3M180 422.5h3M186 422.5h3M192 422.5h3M198 422.5h3M204 422.5h3M210 422.5h3M216 422.5h3M222 422.5h3M228 422.5h3M234 422.5h3M240 422.5h3M246 422.5h3M252 422.5h3M258 422.5h3M264 422.5h3M270 422.5h3M276 422.5h3M282 422.5h3M288 422.5h3M294 422.5h3M300 422.5h3M306 422.5h3M312 422.5h3M318 422.5h3M324 422.5h3M330 422.5h3M336 422.5h3M342 422.5h3M348 422.5h3M354 422.5h3M360 422.5h3M366 422.5h3M372 422.5h3M378 422.5h3M384 422.5h3M390 422.5h3M396 422.5h3M402 422.5h3M408 422.5h3M414 422.5h3M420 422.5h3M426 422.5h3M432 422.5h3M438 422.5h3M444 422.5h3M450 422.5h3M456 422.5h3M462 422.5h3M468 422.5h3M474 422.5h3M480 422.5h3M486 422.5h3M492 422.5h3M498 422.5h3M504 422.5h3M510 422.5h3M516 422.5h3M522 422.5h3M528 422.5h3M534 422.5h3M540 422.5h3M546 422.5h3M552 422.5h3M558 422.5h3M564 422.5h3M570 422.5h3M576 422.5h3M582 422.5h3M588 422.5h3M594 422.5h3M600 422.5h3M606 422.5h3M612 422.5h3M618 422.5h3M624 422.5h3M630 422.5h3M636 422.5h3M642 422.5h3M648 422.5h3M654 422.5h3M660 422.5h3M666 422.5h3M672 422.5h3M678 422.5h3M684 422.5h3M690 422.5h3M696 422.5h3M702 422.5h3M708 422.5h3M714 422.5h3M720 422.5h3M726 422.5h3M732 422.5h3M738 422.5h3M744 422.5h3M750 422.5h3M756 422.5h3M762 422.5h3M768 422.5h3M774 422.5h3M780 422.5h3M786 422.5h3M792 422.5h3M798 422.5h3M804 422.5h3M810 422.5h3M816 422.5h3M822 422.5h3M828 422.5h3M834 422.5h3M840 422.5h3M846 422.5h3M852 422.5h3M858 422.5h3M864 422.5h3M870 422.5h3M876 422.5h3M882 422.5h3M888 422.5h3M894 422.5h3M900 422.5h3M906 422.5h3M912 422.5h3M918 422.5h3M924 422.5h3M930 422.5h3M936 422.5h3M942 422.5h3M948 422.5h3M954 422.5h3M960 422.5h3M966 422.5h3M972 422.5h3M978 422.5h3M984 422.5h3M990 422.5h3M996 422.5h3M1002 422.5h3M1008 422.5h3M1014 422.5h3M1020 422.5h3M1026 422.5h3M1032 422.5h3M1038 422.5h3M1044 422.5h3M1050 422.5h3M1056 422.5h3M1062 422.5h3M1068 422.5h3M1074 422.5h3M1080 422.5h3M1086 422.5h3M1092 422.5h3M1098 422.5h3M1104 422.5h3M1110 422.5h3M1116 422.5h3M1122 422.5h3M1128 422.5h3M1134 422.5h3M1140 422.5h3M1146 422.5h3M1152 422.5h3M1158 422.5h3M1164 422.5h3M1170 422.5h3M1176 422.5h3M1182 422.5h3M1188 422.5h3M1194 422.5h3M1200 422.5h3M1206 422.5h3M1212 422.5h3M1218 422.5h3M1224 422.5h3M1230 422.5h3M1236 422.5h3M1242 422.5h3M1248 422.5h3M1254 422.5h3M1260 422.5h3M1266 422.5h3M1272 422.5h3M1278 422.5h3M1284 422.5h3M1290 422.5h3M1296 422.5h3M1302 422.5h3M1308 422.5h3M1314 422.5h3M1320 422.5h3M1326 422.5h3M1332 422.5h3M1338 422.5h3M1344 422.5h3M1350 422.5h3M1356 422.5h3M1362 422.5h3M1368 422.5h3M1374 422.5h3M1380 422.5h3M1386 422.5h3M1392 422.5h3M1398 422.5h3M1404 422.5h3M1410 422.5h3M1416 422.5h3M1422 422.5h3M1428 422.5h3M1434 422.5h3M1440 422.5h3M1446 422.5h3M1452 422.5h3M1458 422.5h3M1464 422.5h3M1470 422.5h3M1476 422.5h3M1482 422.5h3M1488 422.5h3M1494 422.5h3M1500 422.5h3M1506 422.5h3M1512 422.5h3M6 487.5h3M12 487.5h3M18 487.5h3M24 487.5h3M30 487.5h3M36 487.5h3M42 487.5h3M48 487.5h3M54 487.5h3M60 487.5h3M66 487.5h3M72 487.5h3M78 487.5h3M84 487.5h3M90 487.5h3M96 487.5h3M102 487.5h3M108 487.5h3M114 487.5h3M120 487.5h3M126 487.5h3M132 487.5h3M138 487.5h3M144 487.5h3M150 487.5h3M156 487.5h3M162 487.5h3M168 487.5h3M174 487.5h3M180 487.5h3M186 487.5h3M192 487.5h3M198 487.5h3M204 487.5h3M210 487.5h3M216 487.5h3M222 487.5h3M228 487.5h3M234 487.5h3M240 487.5h3M246 487.5h3M252 487.5h3M258 487.5h3M264 487.5h3M270 487.5h3M276 487.5h3M282 487.5h3M288 487.5h3M294 487.5h3M300 487.5h3M306 487.5h3M312 487.5h3M318 487.5h3M324 487.5h3M330 487.5h3M336 487.5h3M342 487.5h3M348 487.5h3M354 487.5h3M360 487.5h3M366 487.5h3M372 487.5h3M378 487.5h3M384 487.5h3M390 487.5h3M396 487.5h3M402 487.5h3M408 487.5h3M414 487.5h3M420 487.5h3M426 487.5h3M432 487.5h3M438 487.5h3M444 487.5h3M450 487.5h3M456 487.5h3M462 487.5h3M468 487.5h3M474 487.5h3M480 487.5h3M486 487.5h3M492 487.5h3M498 487.5h3M504 487.5h3M510 487.5h3M516 487.5h3M522 487.5h3M528 487.5h3M534 487.5h3M540 487.5h3M546 487.5h3M552 487.5h3M558 487.5h3M564 487.5h3M570 487.5h3M576 487.5h3M582 487.5h3M588 487.5h3M594 487.5h3M600 487.5h3M606 487.5h3M612 487.5h3M618 487.5h3M624 487.5h3M630 487.5h3M636 487.5h3M642 487.5h3M648 487.5h3M654 487.5h3M660 487.5h3M666 487.5h3M672 487.5h3M678 487.5h3M684 487.5h3M690 487.5h3M696 487.5h3M702 487.5h3M708 487.5h3M714 487.5h3M720 487.5h3M726 487.5h3M732 487.5h3M738 487.5h3M744 487.5h3M750 487.5h3M756 487.5h3M762 487.5h3M768 487.5h3M774 487.5h3M780 487.5h3M786 487.5h3M792 487.5h3M798 487.5h3M804 487.5h3M810 487.5h3M816 487.5h3M822 487.5h3M828 487.5h3M834 487.5h3M840 487.5h3M846 487.5h3M852 487.5h3M858 487.5h3M864 487.5h3M870 487.5h3M876 487.5h3M882 487.5h3M888 487.5h3M894 487.5h3M900 487.5h3M906 487.5h3M912 487.5h3M918 487.5h3M924 487.5h3M930 487.5h3M936 487.5h3M942 487.5h3M948 487.5h3M954 487.5h3M960 487.5h3M966 487.5h3M972 487.5h3M978 487.5h3M984 487.5h3M990 487.5h3M996 487.5h3M1002 487.5h3M1008 487.5h3M1014 487.5h3M1020 487.5h3M1026 487.5h3M1032 487.5h3M1038 487.5h3M1044 487.5h3M1050 487.5h3M1056 487.5h3M1062 487.5h3M1068 487.5h3M1074 487.5h3M1080 487.5h3M1086 487.5h3M1092 487.5h3M1098 487.5h3M1104 487.5h3M1110 487.5h3M1116 487.5h3M1122 487.5h3M1128 487.5h3M1134 487.5h3M1140 487.5h3M1146 487.5h3M1152 487.5h3M1158 487.5h3M1164 487.5h3M1170 487.5h3M1176 487.5h3M1182 487.5h3M1188 487.5h3M1194 487.5h3M1200 487.5h3M1206 487.5h3M1212 487.5h3M1218 487.5h3M1224 487.5h3M1230 487.5h3M1236 487.5h3M1242 487.5h3M1248 487.5h3M1254 487.5h3M1260 487.5h3M1266 487.5h3M1272 487.5h3M1278 487.5h3M1284 487.5h3M1290 487.5h3M1296 487.5h3M1302 487.5h3M1308 487.5h3M1314 487.5h3M1320 487.5h3M1326 487.5h3M1332 487.5h3M1338 487.5h3M1344 487.5h3M1350 487.5h3M1356 487.5h3M1362 487.5h3M1368 487.5h3M1374 487.5h3M1380 487.5h3M1386 487.5h3M1392 487.5h3M1398 487.5h3M1404 487.5h3M1410 487.5h3M1416 487.5h3M1422 487.5h3M1428 487.5h3M1434 487.5h3M1440 487.5h3M1446 487.5h3M1452 487.5h3M1458 487.5h3M1464 487.5h3M1470 487.5h3M1476 487.5h3M1482 487.5h3M1488 487.5h3M1494 487.5h3M1500 487.5h3M1506 487.5h3M1512 487.5h3M6 641.5h3M12 641.5h3M18 641.5h3M24 641.5h3M30 641.5h3M36 641.5h3M42 641.5h3M48 641.5h3M54 641.5h3M60 641.5h3M66 641.5h3M72 641.5h3M78 641.5h3M84 641.5h3M90 641.5h3M96 641.5h3M102 641.5h3M108 641.5h3M114 641.5h3M120 641.5h3M126 641.5h3M132 641.5h3M138 641.5h3M144 641.5h3M150 641.5h3M156 641.5h3M162 641.5h3M168 641.5h3M174 641.5h3M180 641.5h3M186 641.5h3M192 641.5h3M198 641.5h3M204 641.5h3M210 641.5h3M216 641.5h3M222 641.5h3M228 641.5h3M234 641.5h3M240 641.5h3M246 641.5h3M252 641.5h3M258 641.5h3M264 641.5h3M270 641.5h3M276 641.5h3M282 641.5h3M288 641.5h3M294 641.5h3M300 641.5h3M306 641.5h3M312 641.5h3M318 641.5h3M324 641.5h3M330 641.5h3M336 641.5h3M342 641.5h3M348 641.5h3M354 641.5h3M360 641.5h3M366 641.5h3M372 641.5h3M378 641.5h3M384 641.5h3M390 641.5h3M396 641.5h3M402 641.5h3M408 641.5h3M414 641.5h3M420 641.5h3M426 641.5h3M432 641.5h3M438 641.5h3M444 641.5h3M450 641.5h3M456 641.5h3M462 641.5h3M468 641.5h3M474 641.5h3M480 641.5h3M486 641.5h3M492 641.5h3M498 641.5h3M504 641.5h3M510 641.5h3M516 641.5h3M522 641.5h3M528 641.5h3M534 641.5h3M540 641.5h3M546 641.5h3M552 641.5h3M558 641.5h3M564 641.5h3M570 641.5h3M576 641.5h3M582 641.5h3M588 641.5h3M594 641.5h3M600 641.5h3M606 641.5h3M612 641.5h3M618 641.5h3M624 641.5h3M630 641.5h3M636 641.5h3M642 641.5h3M648 641.5h3M654 641.5h3M660 641.5h3M666 641.5h3M672 641.5h3M678 641.5h3M684 641.5h3M690 641.5h3M696 641.5h3M702 641.5h3M708 641.5h3M714 641.5h3M720 641.5h3M726 641.5h3M732 641.5h3M738 641.5h3M744 641.5h3M750 641.5h3M756 641.5h3M762 641.5h3M768 641.5h3M774 641.5h3M780 641.5h3M786 641.5h3M792 641.5h3M798 641.5h3M804 641.5h3M810 641.5h3M816 641.5h3M822 641.5h3M828 641.5h3M834 641.5h3M840 641.5h3M846 641.5h3M852 641.5h3M858 641.5h3M864 641.5h3M870 641.5h3M876 641.5h3M882 641.5h3M888 641.5h3M894 641.5h3M900 641.5h3M906 641.5h3M912 641.5h3M918 641.5h3M924 641.5h3M930 641.5h3M936 641.5h3M942 641.5h3M948 641.5h3M954 641.5h3M960 641.5h3M966 641.5h3M972 641.5h3M978 641.5h3M984 641.5h3M990 641.5h3M996 641.5h3M1002 641.5h3M1008 641.5h3M1014 641.5h3M1020 641.5h3M1026 641.5h3M1032 641.5h3M1038 641.5h3M1044 641.5h3M1050 641.5h3M1056 641.5h3M1062 641.5h3M1068 641.5h3M1074 641.5h3M1080 641.5h3M1086 641.5h3M1092 641.5h3M1098 641.5h3M1104 641.5h3M1110 641.5h3M1116 641.5h3M1122 641.5h3M1128 641.5h3M1134 641.5h3M1140 641.5h3M1146 641.5h3M1152 641.5h3M1158 641.5h3M1164 641.5h3M1170 641.5h3M1176 641.5h3M1182 641.5h3M1188 641.5h3M1194 641.5h3M1200 641.5h3M1206 641.5h3M1212 641.5h3M1218 641.5h3M1224 641.5h3M1230 641.5h3M1236 641.5h3M1242 641.5h3M1248 641.5h3M1254 641.5h3M1260 641.5h3M1266 641.5h3M1272 641.5h3M1278 641.5h3M1284 641.5h3M1290 641.5h3M1296 641.5h3M1302 641.5h3M1308 641.5h3M1314 641.5h3M1320 641.5h3M1326 641.5h3M1332 641.5h3M1338 641.5h3M1344 641.5h3M1350 641.5h3M1356 641.5h3M1362 641.5h3M1368 641.5h3M1374 641.5h3M1380 641.5h3M1386 641.5h3M1392 641.5h3M1398 641.5h3M1404 641.5h3M1410 641.5h3M1416 641.5h3M1422 641.5h3M1428 641.5h3M1434 641.5h3M1440 641.5h3M1446 641.5h3M1452 641.5h3M1458 641.5h3M1464 641.5h3M1470 641.5h3M1476 641.5h3M1482 641.5h3M1488 641.5h3M1494 641.5h3M1500 641.5h3M1506 641.5h3M1512 641.5h3" stroke="#606060" stroke-width="1" fill="none"/>
<rect x="5" y="358" width="1512" height="1" fill="#787878"/>
<path d="M1205.6 5H1221.6L1213.6 13Z" fill="#696969" shape-rendering="auto"/>
</g>
<defs><clipPath id="cp"><rect x="5" y="5" width="1512" height="777"/></clipPath></defs>
<g shape-rendering="crispEdges" clip-path="url(#cp)">
<path d="M5 172h1v54h-1zM3 185h5v26h-5zM13 209h1v55h-1zM11 209h5v53h-5zM21 266h1v40h-1zM19 271h5v7h-5zM29 264h1v63h-1zM27 277h5v46h-5zM37 319h1v36h-1zM35 330h5v14h-5zM45 326h1v52h-1zM43 338h5v7h-5zM53 336h1v42h-1zM51 343h5v7h-5zM61 316h1v34h-1zM59 329h5v21h-5zM69 304h1v69h-1zM67 305h5v55h-5zM77 341h1v30h-1zM75 349h5v11h-5zM85 334h1v67h-1zM83 352h5v41h-5zM93 340h1v71h-1zM91 348h5v45h-5zM101 360h1v44h-1zM99 366h5v33h-5zM109 380h1v37h-1zM107 392h5v9h-5zM117 341h1v61h-1zM115 355h5v43h-5zM125 343h1v49h-1zM123 355h5v28h-5zM133 308h1v48h-1zM131 316h5v40h-5zM141 302h1v25h-1zM139 315h5v3h-5zM149 316h1v26h-1zM147 317h5v17h-5zM157 330h1v25h-1zM155 333h5v7h-5zM165 301h1v64h-1zM163 333h5v11h-5zM173 331h1v62h-1zM171 333h5v55h-5zM181 361h1v44h-1zM179 372h5v22h-5zM189 378h1v42h-1zM187 391h5v13h-5zM197 378h1v43h-1zM195 396h5v2h-5zM205 342h1v63h-1zM203 366h5v30h-5zM213 344h1v27h-1zM211 356h5v7h-5zM221 336h1v30h-1zM219 340h5v23h-5zM229 341h1v24h-1zM227 347h5v8h-5zM237 308h1v48h-1zM235 338h5v10h-5zM245 319h1v26h-1zM243 322h5v23h-5zM253 296h1v35h-1zM251 303h5v19h-5zM261 269h1v28h-1zM259 274h5v20h-5zM269 270h1v39h-1zM267 274h5v32h-5zM277 271h1v25h-1zM275 278h5v13h-5zM285 224h1v58h-1zM283 226h5v53h-5zM293 233h1v24h-1zM291 237h5v20h-5zM301 201h1v43h-1zM299 217h5v21h-5zM309 221h1v39h-1zM307 223h5v30h-5zM317 245h1v17h-1zM315 254h5v3h-5zM325 241h1v28h-1zM323 250h5v6h-5zM333 240h1v31h-1zM331 249h5v16h-5zM341 268h1v33h-1zM339 284h5v7h-5zM349 288h1v52h-1zM347 290h5v49h-5zM357 359h1v50h-1zM355 364h5v7h-5zM365 370h1v34h-1zM363 370h5v19h-5zM373 371h1v30h-1zM371 372h5v11h-5zM381 346h1v28h-1zM379 359h5v14h-5zM389 359h1v44h-1zM387 370h5v12h-5zM397 350h1v39h-1zM395 353h5v28h-5zM405 347h1v43h-1zM403 347h5v36h-5zM413 354h1v32h-1zM411 374h5v8h-5zM421 326h1v58h-1zM419 326h5v53h-5zM429 320h1v30h-1zM427 327h5v20h-5zM437 273h1v61h-1zM435 274h5v58h-5zM445 274h1v20h-1zM443 275h5v17h-5zM453 277h1v23h-1zM451 283h5v13h-5zM461 278h1v21h-1zM459 280h5v4h-5zM469 281h1v33h-1zM467 286h5v27h-5zM477 303h1v23h-1zM475 312h5v7h-5zM485 300h1v56h-1zM483 331h5v22h-5zM493 344h1v17h-1zM491 354h5v1h-5zM501 354h1v28h-1zM499 365h5v14h-5zM509 349h1v32h-1zM507 372h5v7h-5zM517 316h1v38h-1zM515 345h5v6h-5zM525 344h1v22h-1zM523 348h5v3h-5zM533 310h1v35h-1zM531 311h5v21h-5zM541 308h1v23h-1zM539 311h5v4h-5zM549 302h1v24h-1zM547 311h5v5h-5zM557 306h1v46h-1zM555 311h5v30h-5zM565 267h1v53h-1zM563 278h5v40h-5zM573 255h1v27h-1zM571 260h5v19h-5zM581 248h1v20h-1zM579 252h5v1h-5zM589 249h1v18h-1zM587 253h5v11h-5zM597 284h1v40h-1zM595 286h5v34h-5zM605 302h1v23h-1zM603 306h5v14h-5zM613 295h1v35h-1zM611 295h5v18h-5zM629 303h1v36h-1zM627 326h5v7h-5zM637 309h1v32h-1zM635 312h5v21h-5zM645 280h1v39h-1zM643 296h5v20h-5zM653 303h1v56h-1zM651 315h5v35h-5zM661 305h1v55h-1zM659 335h5v16h-5zM669 335h1v21h-1zM667 335h5v4h-5zM677 333h1v42h-1zM675 359h5v11h-5zM685 353h1v25h-1zM683 358h5v8h-5zM693 237h1v48h-1zM691 237h5v48h-5zM701 222h1v22h-1zM699 224h5v14h-5zM709 227h1v16h-1zM707 232h5v8h-5zM717 234h1v19h-1zM715 237h5v2h-5zM725 209h1v25h-1zM723 217h5v9h-5zM733 214h1v48h-1zM731 217h5v28h-5zM741 147h1v116h-1zM739 148h5v111h-5zM749 110h1v40h-1zM747 121h5v27h-5zM757 30h1v61h-1zM755 73h5v9h-5zM765 78h1v35h-1zM763 81h5v22h-5zM773 74h1v40h-1zM771 102h5v5h-5zM781 102h1v34h-1zM779 102h5v20h-5zM789 106h1v58h-1zM787 133h5v30h-5zM797 144h1v30h-1zM795 160h5v3h-5zM805 140h1v27h-1zM803 158h5v5h-5zM813 118h1v42h-1zM811 120h5v38h-5zM821 42h1v71h-1zM819 78h5v6h-5zM829 50h1v52h-1zM827 83h5v15h-5zM837 115h1v20h-1zM835 115h5v15h-5zM845 125h1v20h-1zM843 126h5v4h-5zM853 114h1v50h-1zM851 128h5v16h-5zM861 122h1v32h-1zM859 131h5v17h-5zM869 137h1v22h-1zM867 153h5v6h-5zM877 143h1v22h-1zM875 153h5v1h-5zM885 144h1v49h-1zM883 159h5v33h-5zM893 149h1v47h-1zM891 157h5v36h-5zM901 151h1v105h-1zM899 166h5v66h-5zM909 223h1v59h-1zM907 235h5v44h-5zM917 308h1v53h-1zM915 328h5v2h-5zM925 302h1v42h-1zM923 310h5v21h-5zM933 296h1v38h-1zM931 299h5v30h-5zM941 312h1v54h-1zM939 318h5v11h-5zM949 312h1v37h-1zM947 332h5v12h-5zM957 331h1v25h-1zM955 331h5v22h-5zM965 346h1v50h-1zM963 352h5v27h-5zM973 328h1v50h-1zM971 340h5v13h-5zM981 309h1v45h-1zM979 322h5v25h-5zM989 343h1v53h-1zM987 346h5v48h-5zM997 391h1v45h-1zM995 406h5v4h-5zM1005 387h1v76h-1zM1003 409h5v53h-5zM1013 425h1v49h-1zM1011 439h5v34h-5zM1021 406h1v85h-1zM1019 428h5v47h-5zM1029 429h1v41h-1zM1027 437h5v23h-5zM1037 445h1v65h-1zM1035 459h5v40h-5zM1045 448h1v42h-1zM1043 451h5v26h-5zM1053 430h1v41h-1zM1051 452h5v17h-5zM1061 463h1v29h-1zM1059 482h5v10h-5zM1069 444h1v57h-1zM1067 479h5v5h-5zM1077 223h1v158h-1zM1075 229h5v147h-5zM1085 375h1v76h-1zM1083 375h5v59h-5zM1093 346h1v88h-1zM1091 349h5v85h-5zM1101 344h1v52h-1zM1099 347h5v38h-5zM1109 348h1v42h-1zM1107 368h5v10h-5zM1117 372h1v24h-1zM1115 378h5v11h-5zM1125 374h1v44h-1zM1123 383h5v30h-5zM1133 400h1v21h-1zM1131 409h5v4h-5zM1141 357h1v38h-1zM1139 387h5v6h-5zM1149 383h1v17h-1zM1147 383h5v10h-5zM1157 300h1v69h-1zM1155 318h5v29h-5zM1165 309h1v25h-1zM1163 310h5v9h-5zM1173 321h1v30h-1zM1171 325h5v14h-5zM1181 332h1v26h-1zM1179 339h5v9h-5zM1189 363h1v20h-1zM1187 364h5v11h-5zM1197 345h1v31h-1zM1195 358h5v18h-5z" fill="#000"/>
<path d="M4 186h3v24h-3zM12 210h3v51h-3zM20 272h3v5h-3zM28 278h3v44h-3zM36 331h3v12h-3zM52 344h3v5h-3zM68 306h3v53h-3zM84 353h3v39h-3zM100 367h3v31h-3zM124 356h3v26h-3zM140 316h3v1h-3zM148 318h3v15h-3zM156 334h3v5h-3zM172 334h3v53h-3zM180 373h3v20h-3zM188 392h3v11h-3zM212 357h3v5h-3zM268 275h3v30h-3zM308 224h3v28h-3zM332 250h3v14h-3zM340 285h3v5h-3zM348 291h3v47h-3zM356 365h3v5h-3zM364 371h3v17h-3zM388 371h3v10h-3zM404 348h3v34h-3zM428 328h3v18h-3zM444 276h3v15h-3zM468 287h3v25h-3zM476 313h3v5h-3zM484 332h3v20h-3zM500 366h3v12h-3zM516 346h3v4h-3zM540 312h3v2h-3zM556 312h3v28h-3zM588 254h3v9h-3zM596 287h3v32h-3zM612 296h3v16h-3zM628 327h3v5h-3zM644 297h3v18h-3zM652 316h3v33h-3zM668 336h3v2h-3zM684 359h3v6h-3zM708 233h3v6h-3zM732 218h3v26h-3zM756 74h3v7h-3zM764 82h3v20h-3zM780 103h3v18h-3zM788 134h3v28h-3zM820 79h3v4h-3zM828 84h3v13h-3zM836 116h3v13h-3zM860 132h3v15h-3zM884 160h3v31h-3zM900 167h3v64h-3zM908 236h3v42h-3zM932 300h3v28h-3zM956 332h3v20h-3zM980 323h3v23h-3zM988 347h3v46h-3zM996 407h3v2h-3zM1004 410h3v51h-3zM1012 440h3v32h-3zM1028 438h3v21h-3zM1036 460h3v38h-3zM1052 453h3v15h-3zM1076 230h3v145h-3zM1084 376h3v57h-3zM1100 348h3v36h-3zM1108 369h3v8h-3zM1116 379h3v9h-3zM1124 384h3v28h-3zM1140 388h3v4h-3zM1172 326h3v12h-3zM1180 340h3v7h-3zM1188 365h3v9h-3z" fill="#00ff00"/>
<path d="M44 339h3v5h-3zM60 330h3v19h-3zM76 350h3v9h-3zM92 349h3v43h-3zM108 393h3v7h-3zM116 356h3v41h-3zM132 317h3v38h-3zM164 334h3v9h-3zM204 367h3v28h-3zM220 341h3v21h-3zM228 348h3v6h-3zM236 339h3v8h-3zM244 323h3v21h-3zM252 304h3v17h-3zM260 275h3v18h-3zM276 279h3v11h-3zM284 227h3v51h-3zM292 238h3v18h-3zM300 218h3v19h-3zM316 255h3v1h-3zM324 251h3v4h-3zM372 373h3v9h-3zM380 360h3v12h-3zM396 354h3v26h-3zM412 375h3v6h-3zM420 327h3v51h-3zM436 275h3v56h-3zM452 284h3v11h-3zM460 281h3v2h-3zM508 373h3v5h-3zM524 349h3v1h-3zM532 312h3v19h-3zM548 312h3v3h-3zM564 279h3v38h-3zM572 261h3v17h-3zM604 307h3v12h-3zM636 313h3v19h-3zM660 336h3v14h-3zM676 360h3v9h-3zM692 238h3v46h-3zM700 225h3v12h-3zM724 218h3v7h-3zM740 149h3v109h-3zM748 122h3v25h-3zM772 103h3v3h-3zM796 161h3v1h-3zM804 159h3v3h-3zM812 121h3v36h-3zM844 127h3v2h-3zM852 129h3v14h-3zM868 154h3v4h-3zM892 158h3v34h-3zM924 311h3v19h-3zM940 319h3v9h-3zM948 333h3v10h-3zM964 353h3v25h-3zM972 341h3v11h-3zM1020 429h3v45h-3zM1044 452h3v24h-3zM1060 483h3v8h-3zM1068 480h3v3h-3zM1092 350h3v83h-3zM1132 410h3v2h-3zM1148 384h3v8h-3zM1156 319h3v27h-3zM1164 311h3v7h-3zM1196 359h3v16h-3z" fill="#ff0000"/>
<path d="M621 294h1v23h-1zM619 311h5v1h-5z" fill="#00ff00"/>
<path d="M4 641h3v49h-3zM12 641h3v58h-3zM20 641h3v66h-3zM28 641h3v79h-3zM36 641h3v91h-3zM44 641h3v98h-3zM52 641h3v105h-3zM60 641h3v106h-3zM68 641h3v110h-3zM76 641h3v110h-3zM84 641h3v116h-3zM92 641h3v112h-3zM100 641h3v116h-3zM108 641h3v116h-3zM116 641h3v109h-3zM124 641h3v107h-3zM132 641h3v95h-3zM140 641h3v84h-3zM148 641h3v76h-3zM156 641h3v71h-3zM164 641h3v65h-3zM172 641h3v67h-3zM180 641h3v70h-3zM188 641h3v72h-3zM196 641h3v72h-3zM204 641h3v67h-3zM212 641h3v61h-3zM220 641h3v53h-3zM228 641h3v47h-3zM236 641h3v41h-3zM244 641h3v33h-3zM252 641h3v23h-3zM260 641h3v11h-3zM268 641h3v6h-3zM276 638h3v4h-3zM284 624h3v18h-3zM292 615h3v27h-3zM300 605h3v37h-3zM308 603h3v39h-3zM316 602h3v40h-3zM324 602h3v40h-3zM332 603h3v39h-3zM340 609h3v33h-3zM348 621h3v21h-3zM356 636h3v6h-3zM364 641h3v9h-3zM372 641h3v17h-3zM380 641h3v22h-3zM388 641h3v29h-3zM396 641h3v29h-3zM404 641h3v35h-3zM412 641h3v37h-3zM420 641h3v31h-3zM428 641h3v28h-3zM436 641h3v16h-3zM444 641h3v8h-3zM452 641h3v1h-3zM460 635h3v7h-3zM468 635h3v7h-3zM476 636h3v6h-3zM484 641h3v2h-3zM492 641h3v7h-3zM500 641h3v14h-3zM508 641h3v19h-3zM516 641h3v19h-3zM524 641h3v19h-3zM532 641h3v13h-3zM540 641h3v9h-3zM548 641h3v5h-3zM556 641h3v6h-3zM564 637h3v5h-3zM572 628h3v14h-3zM580 620h3v22h-3zM588 615h3v27h-3zM596 620h3v22h-3zM604 623h3v19h-3zM612 625h3v17h-3zM620 628h3v14h-3zM628 633h3v9h-3zM636 634h3v8h-3zM644 635h3v7h-3zM652 641h3v2h-3zM660 641h3v4h-3zM668 641h3v7h-3zM676 641h3v12h-3zM684 641h3v17h-3zM692 641h3v1h-3zM700 627h3v15h-3zM708 618h3v24h-3zM716 612h3v30h-3zM724 604h3v38h-3zM732 602h3v40h-3zM740 586h3v56h-3zM748 571h3v71h-3zM756 554h3v88h-3zM764 544h3v98h-3zM772 538h3v104h-3zM780 537h3v105h-3zM788 544h3v98h-3zM796 550h3v92h-3zM804 555h3v87h-3zM812 555h3v87h-3zM820 550h3v92h-3zM828 549h3v93h-3zM836 555h3v87h-3zM844 559h3v83h-3zM852 564h3v78h-3zM860 572h3v70h-3zM868 579h3v63h-3zM876 586h3v56h-3zM884 597h3v45h-3zM892 602h3v40h-3zM900 617h3v25h-3zM908 636h3v6h-3zM916 641h3v19h-3zM924 641h3v33h-3zM932 641h3v47h-3zM940 641h3v56h-3zM948 641h3v64h-3zM956 641h3v73h-3zM964 641h3v79h-3zM972 641h3v81h-3zM980 641h3v83h-3zM988 641h3v90h-3zM996 641h3v97h-3zM1004 641h3v110h-3zM1012 641h3v120h-3zM1020 641h3v120h-3zM1028 641h3v123h-3zM1036 641h3v130h-3zM1044 641h3v127h-3zM1052 641h3v126h-3zM1060 641h3v125h-3zM1068 641h3v121h-3zM1076 641h3v104h-3zM1084 641h3v97h-3zM1092 641h3v78h-3zM1100 641h3v67h-3zM1108 641h3v58h-3zM1116 641h3v51h-3zM1124 641h3v48h-3zM1132 641h3v45h-3zM1140 641h3v40h-3zM1148 641h3v34h-3zM1156 641h3v19h-3zM1164 641h3v6h-3zM1172 640h3v2h-3zM1180 637h3v5h-3zM1188 638h3v4h-3zM1196 637h3v5h-3z" fill="#00ff00"/>
</g>
<polyline points="5.5,688.4 13.5,688.4 21.5,692.7 29.5,697.3 37.5,701.8 45.5,707.4 53.5,713.2 61.5,719.5 69.5,726.3 77.5,732.6 85.5,738.9 93.5,743.5 101.5,747.8 109.5,750.8 117.5,751.0 125.5,751.0 133.5,750.8 141.5,747.8 149.5,743.5 157.5,738.9 165.5,734.4 173.5,729.6 181.5,724.3 189.5,719.5 197.5,715.7 205.5,711.9 213.5,709.6 221.5,706.9 229.5,704.8 237.5,701.8 245.5,698.5 253.5,693.5 261.5,686.1 269.5,678.3 277.5,670.0 285.5,661.9 293.5,653.1 301.5,645.0 309.5,636.7 317.5,629.6 325.5,622.8 333.5,617.0 341.5,612.4 349.5,611.9 357.5,612.1 365.5,617.0 373.5,622.0 381.5,628.6 389.5,635.9 397.5,643.0 405.5,648.1 413.5,657.5 421.5,663.3 429.5,667.8 437.5,668.3 445.5,667.1 453.5,665.1 461.5,660.8 469.5,656.2 477.5,652.2 485.5,648.6 493.5,645.6 501.5,644.6 509.5,644.9 517.5,646.9 525.5,648.6 533.5,650.7 541.5,652.2 549.5,652.4 557.5,652.4 565.5,651.9 573.5,648.6 581.5,644.6 589.5,639.8 597.5,635.5 605.5,632.0 613.5,629.5 621.5,627.7 629.5,626.7 637.5,626.4 645.5,626.4 653.5,627.9 661.5,631.7 669.5,635.0 677.5,638.0 685.5,641.6 693.5,643.1 701.5,642.8 709.5,641.8 717.5,638.5 725.5,635.0 733.5,630.5 741.5,624.7 749.5,615.3 757.5,604.5 765.5,592.6 773.5,582.0 781.5,572.9 789.5,564.8 797.5,558.0 805.5,555.2 813.5,551.7 821.5,548.4 829.5,547.9 837.5,548.6 845.5,550.7 853.5,553.4 861.5,556.7 869.5,560.5 877.5,564.3 885.5,569.4 893.5,575.7 901.5,583.0 909.5,591.3 917.5,601.4 925.5,614.0 933.5,626.7 941.5,640.0 949.5,654.4 957.5,668.3 965.5,680.9 973.5,691.7 981.5,701.1 989.5,709.3 997.5,716.9 1005.5,723.6 1013.5,730.1 1021.5,735.6 1029.5,740.9 1037.5,746.5 1045.5,751.8 1053.5,756.6 1061.5,760.4 1069.5,763.2 1077.5,762.9 1085.5,760.4 1093.5,756.1 1101.5,749.8 1109.5,740.9 1117.5,732.1 1125.5,723.6 1133.5,715.4 1141.5,705.6 1149.5,698.5 1157.5,689.7 1165.5,680.9 1173.5,672.8 1181.5,667.0 1189.5,661.4 1197.5,656.4" fill="none" stroke="#ff0000" stroke-width="2" stroke-linejoin="round" stroke-linecap="butt" shape-rendering="crispEdges"/>
<g shape-rendering="crispEdges" fill="#000">
<rect x="4" y="4" width="1514" height="1"/><rect x="4" y="522" width="1514" height="1"/><rect x="4" y="524" width="1514" height="1"/><rect x="4" y="782" width="1514" height="1"/>
<rect x="4" y="4" width="1" height="519"/><rect x="4" y="524" width="1" height="259"/>
<rect x="1517" y="4" width="1" height="519"/><rect x="1517" y="524" width="1" height="259"/>
<rect x="1518" y="32" width="3" height="1"/>
<rect x="1518" y="97" width="3" height="1"/>
<rect x="1518" y="162" width="3" height="1"/>
<rect x="1518" y="227" width="3" height="1"/>
<rect x="1518" y="292" width="3" height="1"/>
<rect x="1518" y="422" width="3" height="1"/>
<rect x="1518" y="487" width="3" height="1"/>
<rect x="1518" y="358" width="1" height="1"/><rect x="1518" y="641" width="3" height="1"/><rect x="1518" y="526" width="1" height="1"/><rect x="1518" y="781" width="1" height="1"/>
<rect x="5" y="783" width="1" height="3"/>
<rect x="133" y="783" width="1" height="3"/>
<rect x="261" y="783" width="1" height="3"/>
<rect x="389" y="783" width="1" height="3"/>
<rect x="517" y="783" width="1" height="3"/>
<rect x="645" y="783" width="1" height="3"/>
<rect x="773" y="783" width="1" height="3"/>
<rect x="901" y="783" width="1" height="3"/>
<rect x="1029" y="783" width="1" height="3"/>
<rect x="1157" y="783" width="1" height="3"/>
</g>
<rect x="4" y="376" width="1515" height="4" fill="#0000cd" shape-rendering="crispEdges"/>
<g><line x1="1214.1" y1="375.7" x2="1239" y2="282" stroke="#ff0000" stroke-width="5.4" stroke-linecap="round"/>
<path d="M1247.3 248.7L1227 279.4L1249.7 285.1Z" fill="#ff0000"/></g>
<g shape-rendering="crispEdges"><rect x="1519" y="350" width="54" height="17" fill="#000"/><rect x="1519" y="372" width="54" height="17" fill="#0000cd"/></g>
<path d="M8 12H19L13.5 18Z" fill="#000"/>
<text x="25.5" y="21" textLength="89.5" lengthAdjust="spacingAndGlyphs" xml:space="preserve">CHINA300-,H4</text>
<text x="122.7" y="21" textLength="44" lengthAdjust="spacingAndGlyphs" xml:space="preserve">3802.5</text>
<text x="170.6" y="21" textLength="44" lengthAdjust="spacingAndGlyphs" xml:space="preserve">3826.4</text>
<text x="218.6" y="21" textLength="44" lengthAdjust="spacingAndGlyphs" xml:space="preserve">3799.9</text>
<text x="266.4" y="21" textLength="44" lengthAdjust="spacingAndGlyphs" xml:space="preserve">3815.5</text>
<text x="8.4" y="542" xml:space="preserve">MACD(12,26,9) 1.78 -6.04</text>
<text x="1523.8" y="38" textLength="44" lengthAdjust="spacingAndGlyphs" xml:space="preserve">4078.5</text>
<text x="1523.8" y="103" textLength="44" lengthAdjust="spacingAndGlyphs" xml:space="preserve">4026.0</text>
<text x="1523.8" y="168" textLength="44" lengthAdjust="spacingAndGlyphs" xml:space="preserve">3973.5</text>
<text x="1523.8" y="233" textLength="44" lengthAdjust="spacingAndGlyphs" xml:space="preserve">3921.5</text>
<text x="1523.8" y="298" textLength="44" lengthAdjust="spacingAndGlyphs" xml:space="preserve">3869.0</text>
<text x="1523.8" y="428" textLength="44" lengthAdjust="spacingAndGlyphs" xml:space="preserve">3764.0</text>
<text x="1523.8" y="493" textLength="44" lengthAdjust="spacingAndGlyphs" xml:space="preserve">3711.5</text>
<text x="1523.8" y="364" fill="#fff" textLength="44" lengthAdjust="spacingAndGlyphs" xml:space="preserve">3815.5</text>
<text x="1523.8" y="386" fill="#fff" textLength="44" lengthAdjust="spacingAndGlyphs" xml:space="preserve">3800.0</text>
<text x="1520.3" y="540" textLength="36" lengthAdjust="spacingAndGlyphs" xml:space="preserve">49.72</text>
<text x="1520.6" y="647" textLength="28" lengthAdjust="spacingAndGlyphs" xml:space="preserve">0.00</text>
<text x="1520.5" y="778" textLength="41" lengthAdjust="spacingAndGlyphs" xml:space="preserve">-60.39</text>
<text x="3.8" y="800" textLength="81" lengthAdjust="spacingAndGlyphs" xml:space="preserve">23 May 2023</text>
<text x="131.8" y="800" textLength="75" lengthAdjust="spacingAndGlyphs" xml:space="preserve">2 Jun 01:30</text>
<text x="259.8" y="800" textLength="83" lengthAdjust="spacingAndGlyphs" xml:space="preserve">14 Jun 01:30</text>
<text x="387.8" y="800" textLength="83" lengthAdjust="spacingAndGlyphs" xml:space="preserve">28 Jun 01:30</text>
<text x="515.8" y="800" textLength="78" lengthAdjust="spacingAndGlyphs" xml:space="preserve">10 Jul 01:30</text>
<text x="643.8" y="800" textLength="78" lengthAdjust="spacingAndGlyphs" xml:space="preserve">20 Jul 01:30</text>
<text x="771.8" y="800" textLength="77" lengthAdjust="spacingAndGlyphs" xml:space="preserve">1 Aug 01:30</text>
<text x="899.8" y="800" textLength="85" lengthAdjust="spacingAndGlyphs" xml:space="preserve">11 Aug 01:30</text>
<text x="1027.8" y="800" textLength="85" lengthAdjust="spacingAndGlyphs" xml:space="preserve">23 Aug 01:30</text>
<text x="1155.8" y="800" textLength="76" lengthAdjust="spacingAndGlyphs" xml:space="preserve">4 Sep 01:30</text>
</svg></body></html>
